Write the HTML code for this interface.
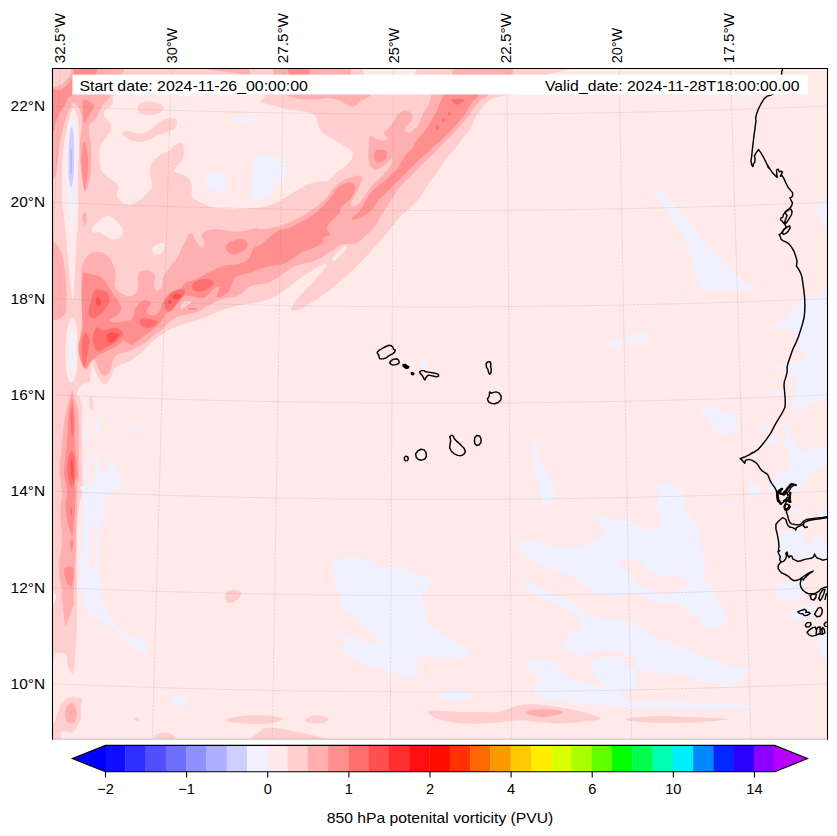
<!DOCTYPE html><html><head><meta charset="utf-8"><style>html,body{margin:0;padding:0;background:#fff}svg text{font-family:"Liberation Sans",sans-serif}</style></head><body><svg width="837" height="836" viewBox="0 0 837 836" style="display:block">
<rect x="0" y="0" width="837" height="836" fill="#fff"/>
<defs><clipPath id="mc"><rect x="52.5" y="68.5" width="775.0" height="670.5"/></clipPath></defs>
<g clip-path="url(#mc)">
<rect x="52.5" y="68.5" width="775.0" height="670.5" fill="rgb(255,233,233)"/>
<g><path d="M40.0,60.0C124.2,-39.3 462.8,57.3 547.0,60.0C631.2,62.7 550.7,70.2 545.0,76.0C539.3,81.8 518.4,91.4 513.0,94.5C507.6,97.6 514.7,94.2 512.8,94.5C510.8,94.8 505.0,95.2 501.5,96.0C498.0,96.8 494.4,97.7 491.5,99.2C488.6,100.8 486.5,102.8 484.0,105.5C481.5,108.2 478.8,111.5 476.5,115.5C474.2,119.5 471.9,126.3 470.0,129.5C468.1,132.7 466.7,133.0 465.3,134.7C463.8,136.5 462.6,138.2 461.3,140.0C460.0,141.8 458.9,143.3 457.4,145.3C455.8,147.2 453.9,149.6 452.1,151.8C450.4,154.0 448.6,156.2 446.8,158.4C445.1,160.6 443.1,162.8 441.6,165.0C440.0,167.2 438.9,169.6 437.6,171.6C436.3,173.6 435.0,175.1 433.7,176.8C432.4,178.6 431.1,180.2 429.7,182.1C428.4,184.0 427.1,186.1 425.8,188.0C424.5,190.0 423.2,192.0 421.8,193.9C420.5,195.9 420.1,197.4 417.9,200.0C415.7,202.6 411.3,206.7 408.5,209.2C405.7,211.8 403.9,212.4 401.0,215.5C398.1,218.6 394.3,223.8 391.0,228.0C387.7,232.2 383.8,237.3 381.0,240.5C378.2,243.7 377.2,244.0 374.5,247.0C371.8,250.0 368.2,254.3 364.5,258.2C360.8,262.2 356.2,266.8 352.0,270.8C347.8,274.7 343.7,278.5 339.5,282.0C335.3,285.5 331.2,288.9 327.0,292.0C322.8,295.1 318.7,298.0 314.5,300.8C310.3,303.5 305.5,306.6 302.0,308.2C298.5,309.9 295.0,310.8 293.2,310.8C291.5,310.8 290.9,310.1 291.5,308.2C292.1,306.4 294.8,302.4 297.0,299.5C299.2,296.6 302.0,293.5 304.5,290.8C307.0,288.0 309.5,286.0 312.0,283.2C314.5,280.5 317.2,277.2 319.5,274.5C321.8,271.8 324.5,268.8 325.8,267.0C327.0,265.2 327.6,264.3 327.0,264.0C326.4,263.7 324.5,263.9 322.0,265.0C319.5,266.1 315.3,268.8 312.0,270.8C308.7,272.8 305.3,274.7 302.0,277.0C298.7,279.3 295.3,282.0 292.0,284.5C288.7,287.0 284.9,289.9 282.0,292.0C279.1,294.1 277.4,295.5 274.5,297.0C271.6,298.5 268.2,299.7 264.5,300.8C260.8,301.8 256.2,302.5 252.0,303.2C247.8,304.0 243.7,304.2 239.5,305.0C235.3,305.8 231.2,306.9 227.0,308.2C222.8,309.6 218.7,311.6 214.5,313.2C210.3,314.9 206.6,316.6 202.0,318.2C197.4,319.9 192.0,321.6 187.0,323.2C182.0,324.9 176.2,326.4 172.0,328.2C167.8,330.1 165.3,332.2 162.0,334.5C158.7,336.8 155.3,339.1 152.0,342.0C148.7,344.9 145.3,349.1 142.0,352.0C138.7,354.9 135.3,357.4 132.0,359.5C128.7,361.6 124.9,363.0 122.0,364.5C119.1,366.0 116.4,366.2 114.5,368.2C112.6,370.3 112.4,374.3 110.8,377.0C109.1,379.7 106.6,384.5 104.5,384.5C102.4,384.5 99.9,379.5 98.2,377.0C96.6,374.5 95.5,371.8 94.5,369.5C93.5,367.2 92.6,362.8 92.0,363.2C91.4,363.7 91.2,368.9 90.8,372.0C90.3,375.1 91.0,379.9 89.5,382.0C88.0,384.1 83.9,383.2 82.0,384.5C80.1,385.8 79.1,387.8 78.2,389.5C77.4,391.2 76.6,392.8 77.0,394.5C77.4,396.2 79.9,397.0 80.8,399.5C81.6,402.0 81.9,404.9 82.0,409.5C82.1,414.1 81.5,419.9 81.5,427.0C81.5,434.1 81.8,442.2 82.0,452.0C82.2,461.8 83.1,476.2 82.5,486.0C81.9,495.8 79.2,502.7 78.2,511.0C77.3,519.3 77.3,527.7 77.0,536.0C76.7,544.3 76.5,552.7 76.5,561.0C76.5,569.3 76.9,577.7 77.0,586.0C77.1,594.3 77.1,602.7 77.0,611.0C76.9,619.3 76.8,628.5 76.5,636.0C76.2,643.5 75.5,650.0 75.0,656.0C74.5,662.0 74.0,669.5 73.2,672.2C72.5,675.0 71.7,673.3 70.8,672.2C69.8,671.2 68.2,668.7 67.5,666.0C66.8,663.3 67.4,658.2 66.5,656.0C65.6,653.8 63.8,653.4 62.0,653.0C60.2,652.6 59.1,653.0 55.8,653.5C52.4,654.0 44.6,754.9 42.0,656.0C39.4,557.1 -44.2,159.3 40.0,60.0Z" fill="rgb(255,207,207)"/>
<path d="M122.2,93.0C137.2,91.1 178.9,92.8 202.0,93.0C225.1,93.2 251.2,92.5 261.0,94.0C270.8,95.5 258.9,99.8 261.0,101.8C263.1,103.7 269.3,104.2 273.5,105.5C277.7,106.8 281.8,108.4 286.0,109.2C290.2,110.1 294.3,109.9 298.5,110.5C302.7,111.1 308.0,111.8 311.0,113.0C314.0,114.2 315.2,115.7 316.5,118.0C317.8,120.3 317.3,124.2 318.5,126.8C319.7,129.3 321.0,131.4 323.5,133.5C326.0,135.6 330.2,137.2 333.5,139.2C336.8,141.2 340.4,143.4 343.5,145.5C346.6,147.6 350.9,149.5 352.2,151.8C353.6,154.0 352.5,157.0 351.5,159.2C350.5,161.5 348.6,163.2 346.0,165.5C343.4,167.8 338.9,170.5 336.0,173.0C333.1,175.5 331.4,179.0 328.5,180.5C325.6,182.0 321.8,181.1 318.5,181.8C315.2,182.4 311.8,183.0 308.5,184.2C305.2,185.5 301.8,187.4 298.5,189.2C295.2,191.1 291.8,193.4 288.5,195.5C285.2,197.6 281.8,200.1 278.5,201.8C275.2,203.4 271.4,204.5 268.5,205.5C265.6,206.5 264.6,207.0 261.0,207.5C257.4,208.0 251.8,208.2 247.0,208.5C242.2,208.8 237.0,209.3 232.0,209.2C227.0,209.2 221.2,208.6 217.0,208.0C212.8,207.4 210.3,206.8 207.0,205.5C203.7,204.2 199.6,202.2 197.0,200.5C194.4,198.8 192.3,197.6 191.5,195.5C190.7,193.4 192.3,190.7 192.0,188.0C191.7,185.3 191.2,181.5 189.5,179.2C187.8,177.0 184.5,175.5 182.0,174.2C179.5,173.0 175.5,172.8 174.5,171.8C173.5,170.7 174.5,169.9 175.8,168.0C177.0,166.1 180.7,163.4 182.0,160.5C183.3,157.6 183.8,153.4 183.8,150.5C183.8,147.6 183.5,143.8 182.0,143.0C180.5,142.2 176.6,144.2 174.5,145.5C172.4,146.8 172.0,148.8 169.5,150.5C167.0,152.2 162.4,153.4 159.5,155.5C156.6,157.6 153.6,160.1 152.0,163.0C150.4,165.9 150.0,169.2 150.0,173.0C150.0,176.8 152.3,182.4 152.0,185.5C151.7,188.6 150.3,189.2 148.2,191.8C146.2,194.2 142.6,198.3 139.5,200.5C136.4,202.7 132.6,204.8 129.5,205.0C126.4,205.2 122.8,203.3 120.8,201.8C118.7,200.2 117.4,198.0 117.0,195.5C116.6,193.0 118.7,189.0 118.2,186.8C117.8,184.5 116.6,183.6 114.5,181.8C112.4,179.9 108.0,177.8 105.8,175.5C103.5,173.2 101.8,172.2 100.8,168.0C99.7,163.8 99.4,154.6 99.5,150.5C99.6,146.4 100.2,145.7 101.5,143.2C102.8,140.8 105.7,137.8 107.2,135.8C108.8,133.7 110.4,132.6 111.0,130.8C111.6,128.9 111.4,126.2 111.0,124.5C110.6,122.8 109.7,122.2 108.5,120.8C107.3,119.3 104.6,117.4 104.0,115.8C103.4,114.1 103.4,112.6 104.8,110.8C106.1,108.9 109.3,107.5 112.2,104.5C115.2,101.5 107.3,94.9 122.2,93.0Z" fill="rgb(255,233,233)"/>
<path d="M138.2,105.5C139.0,104.2 141.0,103.1 143.2,102.5C145.5,101.9 149.1,101.5 152.0,101.8C154.9,102.0 158.8,103.2 160.8,104.2C162.7,105.3 163.8,106.6 163.8,108.0C163.8,109.4 162.7,111.4 160.8,112.5C158.8,113.6 155.1,114.5 152.0,114.8C148.9,115.0 144.2,115.0 142.0,114.2C139.8,113.5 139.4,112.0 138.8,110.5C138.1,109.0 137.5,106.8 138.2,105.5Z" fill="rgb(255,207,207)"/>
<path d="M122.5,132.5C123.1,131.8 125.0,131.0 127.0,131.0C129.0,131.0 132.0,132.1 134.5,132.5C137.0,132.9 139.5,133.8 142.0,133.5C144.5,133.2 147.0,132.0 149.5,130.5C152.0,129.0 154.5,126.1 157.0,124.2C159.5,122.4 162.0,120.3 164.5,119.2C167.0,118.2 170.0,117.9 172.0,118.0C174.0,118.1 175.8,118.5 176.5,120.0C177.2,121.5 177.2,125.0 176.2,126.8C175.3,128.5 172.7,129.4 170.8,130.5C168.8,131.6 166.8,132.7 164.5,133.5C162.2,134.3 159.3,134.5 157.0,135.5C154.7,136.5 153.2,138.2 150.8,139.2C148.2,140.3 144.9,141.5 142.0,141.8C139.1,142.0 135.8,141.6 133.2,141.0C130.8,140.4 128.7,139.0 127.0,138.0C125.3,137.0 124.0,135.9 123.2,135.0C122.5,134.1 121.9,133.2 122.5,132.5Z" fill="rgb(255,207,207)"/>
<path d="M92.0,228.0C92.8,226.1 96.0,223.8 98.2,221.8C100.5,219.8 103.2,216.6 105.8,216.0C108.2,215.4 111.0,216.6 113.2,218.0C115.5,219.4 117.8,222.0 119.5,224.2C121.2,226.5 123.2,229.5 123.2,231.8C123.2,234.0 121.4,236.8 119.5,238.0C117.6,239.2 114.5,239.7 112.0,239.2C109.5,238.8 106.8,236.8 104.5,235.5C102.2,234.2 100.1,232.2 98.2,231.8C96.4,231.3 94.3,233.6 93.2,233.0C92.2,232.4 91.2,229.9 92.0,228.0Z" fill="rgb(255,233,233)"/>
<path d="M152.5,249.2C152.8,247.6 155.2,245.3 157.0,244.2C158.8,243.2 162.0,242.4 163.2,243.0C164.5,243.6 164.9,246.2 164.5,248.0C164.1,249.8 162.3,252.5 160.8,253.5C159.2,254.5 156.4,255.0 155.0,254.2C153.6,253.5 152.2,250.9 152.5,249.2Z" fill="rgb(255,233,233)"/>
<path d="M332.0,258.2C332.5,257.0 335.1,255.1 337.0,253.2C338.9,251.4 341.7,248.1 343.2,247.0C344.8,245.9 346.2,245.9 346.5,246.5C346.8,247.1 346.2,249.1 345.0,250.8C343.8,252.4 341.3,254.8 339.5,256.5C337.7,258.2 335.2,260.5 334.0,260.8C332.8,261.0 331.5,259.5 332.0,258.2Z" fill="rgb(255,233,233)"/>
<path d="M362.0,60.0L417.0,60.0L415.0,76.0L364.0,76.0Z" fill="rgb(255,233,233)"/>
<path d="M73.2,108.0C74.5,107.6 76.0,112.2 77.0,115.5C78.0,118.8 78.7,123.4 79.0,128.0C79.3,132.6 79.1,136.3 79.0,143.0C78.9,149.7 78.5,160.5 78.2,168.0C78.0,175.5 77.8,182.2 77.8,188.0C77.8,193.8 78.1,201.0 78.2,203.0C78.4,205.0 78.6,198.1 78.6,200.0C78.5,201.9 78.3,209.6 78.1,214.4C78.0,219.1 77.8,223.9 77.6,228.7C77.3,233.5 76.7,238.3 76.4,243.1C76.1,247.8 75.9,252.6 75.7,257.4C75.4,262.2 75.2,267.0 75.0,271.8C74.7,276.6 74.6,281.3 74.2,286.1C73.9,290.9 73.4,300.5 72.8,300.5C72.2,300.5 71.3,290.9 70.7,286.1C70.1,281.3 69.7,276.6 69.2,271.8C68.8,267.0 68.6,262.2 68.1,257.4C67.6,252.6 66.8,247.8 66.4,243.1C65.9,238.3 65.7,233.5 65.2,228.7C64.7,223.9 64.0,219.1 63.5,214.4C63.0,209.6 62.2,203.6 62.0,200.0C61.9,196.4 62.5,197.5 62.5,193.0C62.5,188.5 61.9,180.1 62.0,173.0C62.1,165.9 62.6,157.2 63.2,150.5C63.9,143.8 64.7,138.4 65.8,133.0C66.8,127.6 68.2,122.2 69.5,118.0C70.8,113.8 72.0,108.4 73.2,108.0Z" fill="rgb(255,233,233)"/>
<path d="M71.7,318.0C72.9,317.4 74.4,319.2 75.3,321.6C76.2,324.0 76.8,328.2 77.1,332.4C77.5,336.5 77.5,341.3 77.5,346.7C77.5,352.1 77.5,359.6 77.1,364.7C76.8,369.7 76.2,374.2 75.3,377.2C74.4,380.2 72.8,382.0 71.7,382.6C70.7,383.2 69.9,382.6 69.0,380.8C68.1,379.0 67.0,376.0 66.4,371.8C65.8,367.6 65.5,361.4 65.5,355.7C65.4,350.0 65.5,342.8 66.0,337.7C66.4,332.7 67.2,328.5 68.1,325.2C69.1,321.9 70.5,318.6 71.7,318.0Z" fill="rgb(255,233,233)"/>
<path d="M71.5,116.8C72.6,116.3 74.9,121.1 75.8,125.5C76.6,129.9 76.4,135.9 76.5,143.0C76.6,150.1 76.6,160.5 76.5,168.0C76.4,175.5 76.2,182.2 76.0,188.0C75.8,193.8 75.4,198.0 75.0,203.0C74.6,208.0 73.9,213.0 73.5,218.0C73.1,223.0 72.8,229.2 72.5,233.0C72.2,236.8 71.8,240.5 71.5,240.5C71.2,240.5 71.0,236.8 70.8,233.0C70.5,229.2 70.3,223.0 70.0,218.0C69.7,213.0 69.4,208.0 69.0,203.0C68.6,198.0 67.8,193.8 67.5,188.0C67.2,182.2 67.0,175.5 67.0,168.0C67.0,160.5 67.2,149.7 67.5,143.0C67.8,136.3 68.3,132.4 69.0,128.0C69.7,123.6 70.4,117.2 71.5,116.8Z" fill="rgb(240,240,255)"/>
<path d="M71.7,327.0C72.5,327.0 73.8,330.9 74.4,334.2C75.0,337.4 75.3,341.6 75.3,346.7C75.3,351.8 75.0,360.2 74.4,364.7C73.9,369.1 72.8,373.6 72.1,373.6C71.3,373.6 70.5,369.1 69.9,364.7C69.4,360.2 69.1,351.8 69.0,346.7C69.0,341.6 69.1,337.4 69.6,334.2C70.0,330.9 70.9,327.0 71.7,327.0Z" fill="rgb(240,240,255)"/>
<path d="M71.5,126.8C72.2,125.9 73.1,129.0 73.5,133.0C73.9,137.0 73.9,144.7 74.0,150.5C74.1,156.3 74.2,163.0 74.0,168.0C73.8,173.0 73.5,177.2 73.0,180.5C72.5,183.8 71.6,187.6 71.0,188.0C70.4,188.4 69.9,185.5 69.5,183.0C69.1,180.5 68.7,177.6 68.5,173.0C68.3,168.4 68.3,161.3 68.5,155.5C68.7,149.7 69.0,142.8 69.5,138.0C70.0,133.2 70.8,127.6 71.5,126.8Z" fill="rgb(207,207,255)"/>
<path d="M434.0,92.0C443.1,92.1 478.8,91.6 486.5,93.0C494.2,94.4 482.5,97.8 480.2,100.5C478.0,103.2 474.5,106.9 472.8,109.2C471.0,111.6 471.2,112.6 470.0,114.3C468.8,116.1 466.9,117.6 465.3,119.6C463.6,121.6 461.8,124.1 460.0,126.2C458.2,128.3 456.5,130.2 454.7,132.1C453.0,134.0 451.2,135.6 449.5,137.4C447.7,139.1 446.0,140.9 444.2,142.6C442.5,144.4 440.7,146.1 438.9,147.9C437.2,149.6 435.4,151.4 433.7,153.2C431.9,154.9 430.2,156.8 428.4,158.4C426.7,160.1 424.9,161.4 423.2,163.0C421.4,164.7 419.6,166.4 417.9,168.3C416.1,170.2 414.4,172.3 412.6,174.2C410.9,176.1 409.1,177.7 407.4,179.5C405.6,181.2 403.8,183.0 402.1,184.7C400.5,186.5 398.8,188.2 397.5,190.0C396.2,191.8 395.3,193.6 394.2,195.3C393.1,196.9 392.3,197.9 390.9,200.0C389.6,202.1 387.7,205.4 386.0,208.0C384.3,210.6 382.7,212.6 381.0,215.5C379.3,218.4 378.5,222.2 376.0,225.5C373.5,228.8 369.3,232.6 366.0,235.5C362.7,238.4 360.0,241.5 356.0,243.0C352.0,244.5 346.0,243.2 342.0,244.5C338.0,245.8 335.3,248.7 332.0,250.8C328.7,252.8 325.3,255.1 322.0,257.0C318.7,258.9 315.3,260.8 312.0,262.0C308.7,263.2 305.3,263.1 302.0,264.0C298.7,264.9 295.3,265.8 292.0,267.5C288.7,269.2 284.9,272.5 282.0,274.5C279.1,276.5 277.0,278.0 274.5,279.5C272.0,281.0 269.9,282.4 267.0,283.2C264.1,284.1 259.9,283.9 257.0,284.5C254.1,285.1 252.0,285.5 249.5,287.0C247.0,288.5 244.5,291.6 242.0,293.2C239.5,294.9 237.4,296.2 234.5,297.0C231.6,297.8 227.8,297.3 224.5,298.2C221.2,299.2 217.4,301.2 214.5,302.5C211.6,303.8 209.1,304.6 207.0,305.8C204.9,306.9 203.7,308.5 202.0,309.5C200.3,310.5 199.5,311.2 197.0,312.0C194.5,312.8 190.3,313.7 187.0,314.5C183.7,315.3 179.9,315.8 177.0,317.0C174.1,318.2 172.0,319.9 169.5,322.0C167.0,324.1 164.9,327.0 162.0,329.5C159.1,332.0 154.9,334.7 152.0,337.0C149.1,339.3 147.0,341.6 144.5,343.2C142.0,344.9 139.9,345.5 137.0,347.0C134.1,348.5 129.9,351.0 127.0,352.0C124.1,353.0 121.8,352.0 119.5,353.2C117.2,354.5 114.7,356.8 113.2,359.5C111.8,362.2 112.0,366.8 110.8,369.5C109.5,372.2 107.4,375.1 105.8,375.8C104.1,376.4 102.2,375.1 100.8,373.2C99.3,371.4 98.0,366.8 97.0,364.5C96.0,362.2 95.3,360.3 94.5,359.5C93.7,358.7 92.8,358.9 92.0,359.5C91.2,360.1 90.3,361.6 89.5,363.2C88.7,364.9 88.0,368.9 87.0,369.5C86.0,370.1 84.3,368.7 83.2,367.0C82.2,365.3 81.4,362.4 80.8,359.5C80.1,356.6 79.6,352.8 79.5,349.5C79.4,346.2 79.7,343.2 80.0,339.5C80.3,335.8 81.2,331.2 81.5,327.0C81.8,322.8 81.8,318.7 82.0,314.5C82.2,310.3 82.5,306.2 82.5,302.0C82.5,297.8 82.2,293.7 82.0,289.5C81.8,285.3 81.5,281.0 81.5,277.0C81.5,273.0 81.3,268.7 82.0,265.5C82.7,262.3 84.1,260.1 85.8,258.0C87.4,255.9 89.3,253.9 92.0,253.0C94.7,252.1 99.1,251.7 102.0,252.5C104.9,253.3 107.4,255.4 109.5,258.0C111.6,260.6 113.5,264.8 114.5,268.0C115.5,271.2 115.8,274.2 115.8,277.0C115.8,279.8 114.1,282.2 114.5,284.5C114.9,286.8 116.2,288.9 118.2,290.8C120.3,292.6 124.3,295.1 127.0,295.8C129.7,296.4 132.6,295.8 134.5,294.5C136.4,293.2 137.7,291.2 138.2,288.2C138.8,285.3 137.7,279.8 138.0,277.0C138.3,274.2 138.5,272.9 140.0,271.8C141.5,270.6 144.8,269.8 147.0,270.0C149.2,270.2 151.9,271.8 153.2,273.0C154.6,274.2 154.9,274.9 155.0,277.0C155.1,279.1 153.7,283.5 154.0,285.8C154.3,288.0 155.7,290.5 157.0,290.8C158.3,291.0 161.0,289.3 162.0,287.0C163.0,284.7 162.0,280.2 163.2,277.0C164.5,273.8 167.2,271.2 169.5,268.0C171.8,264.8 174.9,261.3 177.0,258.0C179.1,254.7 180.1,251.8 182.0,248.0C183.9,244.2 186.6,238.0 188.2,235.5C189.9,233.0 190.8,232.2 192.0,233.0C193.2,233.8 194.1,238.0 195.8,240.5C197.4,243.0 200.5,247.6 202.0,248.0C203.5,248.4 204.5,245.1 204.5,243.0C204.5,240.9 201.6,237.6 202.0,235.5C202.4,233.4 204.5,231.5 207.0,230.5C209.5,229.5 213.7,229.2 217.0,229.2C220.3,229.2 223.7,230.1 227.0,230.5C230.3,230.9 233.7,231.8 237.0,231.8C240.3,231.8 244.1,231.1 247.0,230.5C249.9,229.9 252.2,228.2 254.5,228.0C256.8,227.8 258.2,229.2 261.0,229.2C263.8,229.2 267.7,228.6 271.0,228.0C274.3,227.4 277.7,226.5 281.0,225.5C284.3,224.5 287.7,223.2 291.0,221.8C294.3,220.3 297.7,218.6 301.0,216.8C304.3,214.9 307.7,212.8 311.0,210.5C314.3,208.2 318.1,205.5 321.0,203.0C323.9,200.5 326.4,198.0 328.5,195.5C330.6,193.0 331.4,190.3 333.5,188.0C335.6,185.7 338.5,183.4 341.0,181.8C343.5,180.1 345.8,179.0 348.5,178.0C351.2,177.0 355.0,175.5 357.2,175.5C359.5,175.5 361.8,176.3 362.2,178.0C362.7,179.7 361.0,182.6 359.8,185.5C358.5,188.4 356.2,192.4 354.8,195.5C353.3,198.6 350.8,202.6 351.0,204.2C351.2,205.9 353.9,206.5 356.0,205.5C358.1,204.5 361.5,200.4 363.5,198.0C365.5,195.6 366.5,193.3 367.9,191.3C369.3,189.3 370.3,187.8 371.8,186.1C373.4,184.3 375.1,182.8 377.1,180.8C379.1,178.8 381.6,176.4 383.7,174.2C385.8,172.0 388.1,169.7 389.6,167.6C391.1,165.5 392.2,163.2 392.6,161.7C393.1,160.2 392.6,158.9 392.2,158.4C391.8,158.0 391.2,158.2 390.3,159.1C389.3,160.0 387.9,162.3 386.3,163.7C384.8,165.1 382.8,166.6 381.1,167.6C379.3,168.6 377.5,169.8 375.8,169.6C374.0,169.4 371.7,168.0 370.5,166.3C369.3,164.7 368.9,162.6 368.6,159.7C368.2,156.9 368.4,152.7 368.6,149.2C368.7,145.7 368.8,141.0 369.2,138.7C369.6,136.4 369.9,135.3 371.2,135.4C372.5,135.5 375.1,138.5 377.1,139.3C379.1,140.2 381.3,140.7 383.0,140.7C384.8,140.7 387.0,140.0 387.6,139.3C388.3,138.7 387.6,137.8 387.0,136.7C386.3,135.6 383.4,134.3 383.7,132.8C384.0,131.2 387.3,129.4 388.9,127.5C390.6,125.6 392.3,123.4 393.6,121.6C394.8,119.7 395.1,117.9 396.2,116.3C397.3,114.8 398.7,113.4 400.1,112.4C401.6,111.4 403.1,110.5 404.7,110.4C406.4,110.3 408.8,110.9 410.0,111.7C411.2,112.5 411.6,113.6 412.0,115.0C412.3,116.4 412.5,118.7 412.0,120.3C411.4,121.8 409.8,122.9 408.7,124.2C407.6,125.5 405.8,126.8 405.4,128.2C405.0,129.5 405.3,131.3 406.1,132.1C406.8,132.9 408.7,133.2 410.0,132.8C411.3,132.3 412.6,130.7 413.9,129.5C415.3,128.3 416.8,127.1 417.9,125.5C419.0,124.0 419.6,122.2 420.5,120.3C421.4,118.3 422.1,115.9 423.2,113.7C424.3,111.5 425.9,109.3 427.1,107.1C428.3,104.9 429.6,102.9 430.4,100.5C431.2,98.1 431.1,94.1 431.7,92.6C432.3,91.2 424.9,91.9 434.0,92.0Z" fill="rgb(255,175,175)"/>
<path d="M149.5,307.0C150.1,305.3 152.8,303.5 154.5,303.2C156.2,303.0 158.5,304.5 159.5,305.8C160.5,307.0 161.4,309.3 160.8,310.8C160.1,312.2 157.4,314.1 155.8,314.5C154.1,314.9 151.8,314.5 150.8,313.2C149.7,312.0 148.9,308.7 149.5,307.0Z" fill="rgb(255,175,175)"/>
<path d="M180.3,308.0L181.5,302.0L186.0,301.3L191.5,302.5L186.0,306.0L182.0,309.5Z" fill="rgb(255,207,207)"/>
<path d="M186.5,301.3L191.5,302.5L189.0,303.3Z" fill="rgb(255,233,233)"/>
<path d="M289.7,92.9C301.8,92.1 354.4,91.4 366.2,92.9C378.0,94.3 362.7,99.1 360.4,101.5C358.2,103.8 355.3,106.5 352.8,106.8C350.2,107.1 347.7,104.6 345.1,103.4C342.6,102.2 340.3,100.5 337.5,99.6C334.6,98.7 331.1,98.1 327.9,98.0C324.7,98.0 321.2,98.9 318.4,99.2C315.5,99.4 313.9,99.6 310.7,99.6C307.5,99.6 302.1,99.5 299.2,99.2C296.4,98.9 295.1,98.7 293.5,97.6C291.9,96.6 277.6,93.7 289.7,92.9Z" fill="rgb(255,175,175)"/>
<path d="M207.0,60.0L250.0,60.0L250.0,75.0L240.0,74.0L225.0,71.5L207.0,69.5Z" fill="rgb(255,175,175)"/>
<path d="M272.0,60.0L352.0,60.0L350.0,76.0L274.0,76.0Z" fill="rgb(255,175,175)"/>
<path d="M287.0,60.0L311.0,60.0L309.0,76.0L289.0,76.0Z" fill="rgb(255,143,143)"/>
<path d="M455.0,60.0L515.0,60.0L512.0,76.0L452.0,76.0Z" fill="rgb(255,175,175)"/>
<path d="M42.0,58.0C55.2,37.6 107.8,55.1 121.0,58.0C134.2,60.9 122.5,71.3 121.0,75.5C119.5,79.7 113.7,79.8 112.0,83.0C110.3,86.2 111.4,91.8 110.8,94.5C110.1,97.2 109.5,97.6 108.2,99.2C107.0,100.9 104.7,102.4 103.2,104.2C101.8,106.1 100.5,108.4 99.5,110.5C98.5,112.6 98.0,114.9 97.0,116.8C96.0,118.6 94.5,120.3 93.2,121.8C92.0,123.2 90.1,123.6 89.5,125.5C88.9,127.4 89.3,130.1 89.5,133.0C89.7,135.9 90.4,138.8 90.8,143.0C91.1,147.2 91.5,153.0 91.5,158.0C91.5,163.0 91.3,168.4 90.8,173.0C90.2,177.6 89.1,182.4 88.2,185.5C87.4,188.6 86.6,191.8 85.8,191.8C84.9,191.8 84.0,188.6 83.2,185.5C82.5,182.4 82.0,177.6 81.5,173.0C81.0,168.4 80.2,163.0 80.0,158.0C79.8,153.0 79.8,147.6 80.0,143.0C80.2,138.4 81.2,133.8 81.5,130.5C81.8,127.2 82.0,125.5 82.0,123.0C82.0,120.5 81.9,117.8 81.5,115.5C81.1,113.2 80.2,110.9 79.5,109.2C78.8,107.6 77.9,106.5 77.0,105.5C76.1,104.5 74.9,103.0 74.0,103.0C73.1,103.0 72.2,104.5 71.5,105.5C70.8,106.5 70.2,107.6 69.5,109.2C68.8,110.9 67.8,113.2 67.0,115.5C66.2,117.8 65.3,120.1 64.5,123.0C63.7,125.9 62.8,129.7 62.0,133.0C61.2,136.3 60.6,139.2 60.0,143.0C59.4,146.8 59.1,151.3 58.5,155.5C57.9,159.7 57.2,164.2 56.5,168.0C55.8,171.8 56.4,175.9 54.0,178.0C51.6,180.1 44.0,200.5 42.0,180.5C40.0,160.5 28.8,78.4 42.0,58.0Z" fill="rgb(255,175,175)"/>
<path d="M47.0,63.0C51.1,59.1 67.4,62.1 71.5,63.0C75.5,63.8 71.6,66.5 71.5,68.0C71.4,69.5 71.6,70.3 71.0,72.0C70.4,73.7 69.3,76.2 68.0,78.0C66.6,79.9 64.9,81.6 63.1,82.9C61.2,84.3 59.7,85.4 57.0,86.0C54.3,86.5 48.7,90.3 47.0,86.5C45.3,82.6 42.9,66.9 47.0,63.0Z" fill="rgb(255,207,207)"/>
<path d="M74.6,63.0C78.1,61.3 91.4,60.9 94.7,63.0C98.1,65.1 97.6,71.6 94.7,75.5C91.8,79.5 80.9,83.6 77.1,86.8C73.4,90.1 73.6,93.2 72.1,95.0C70.6,96.8 69.3,96.4 68.3,97.5C67.4,98.7 67.1,100.6 66.4,101.9C65.8,103.3 65.3,104.4 64.6,105.7C63.8,106.9 62.9,108.2 62.0,109.4C61.2,110.7 60.4,111.8 59.5,113.2C58.7,114.7 57.8,116.4 57.0,118.2C56.3,120.1 55.7,122.4 55.1,124.5C54.6,126.6 55.2,129.3 53.9,130.8C52.5,132.3 48.1,139.8 47.0,133.3C45.8,126.8 44.8,99.1 47.0,91.9C49.2,84.6 56.9,91.0 60.0,90.0C63.2,89.0 64.1,87.6 65.9,86.0C67.8,84.3 69.6,82.1 71.0,79.9C72.3,77.8 73.4,75.8 74.0,73.0C74.6,70.2 71.2,64.7 74.6,63.0Z" fill="rgb(255,143,143)"/>
<path d="M83.1,100.0C84.1,98.6 86.7,100.2 88.4,100.9C90.1,101.6 92.7,103.0 93.4,104.4C94.2,105.8 93.4,107.8 92.8,109.4C92.2,111.1 90.7,112.8 89.7,114.5C88.6,116.1 87.4,118.0 86.5,119.5C85.7,121.0 84.9,123.5 84.4,123.3C83.9,123.1 83.7,120.5 83.4,118.2C83.1,115.9 82.8,112.5 82.8,109.4C82.7,106.4 82.2,101.5 83.1,100.0Z" fill="rgb(255,143,143)"/>
<path d="M84.5,141.8C85.2,142.2 86.4,147.0 87.0,150.5C87.6,154.0 88.2,158.8 88.2,163.0C88.3,167.2 87.9,171.8 87.5,175.5C87.1,179.2 86.2,183.0 85.8,185.5C85.2,188.0 84.9,190.9 84.5,190.5C84.1,190.1 83.7,185.9 83.2,183.0C82.8,180.1 82.3,176.8 82.0,173.0C81.7,169.2 81.4,164.7 81.5,160.5C81.6,156.3 82.0,151.1 82.5,148.0C83.0,144.9 83.8,141.3 84.5,141.8Z" fill="rgb(255,143,143)"/>
<path d="M45.0,240.0C46.4,226.8 51.3,240.6 53.4,241.6C55.5,242.6 56.3,243.8 57.7,246.0C59.1,248.2 60.9,251.4 62.0,254.5C63.1,257.6 63.6,260.5 64.2,264.6C64.8,268.7 65.2,274.2 65.6,279.0C66.0,283.8 66.2,289.0 66.4,293.3C66.6,297.6 66.7,301.6 66.5,305.0C66.3,308.4 66.2,311.7 65.0,314.0C63.8,316.3 60.9,318.0 59.0,319.0C57.1,320.0 56.1,319.7 53.8,320.0C51.5,320.3 46.5,334.3 45.0,321.0C43.5,307.7 43.6,253.2 45.0,240.0Z" fill="rgb(255,175,175)"/>
<path d="M84.5,212.1C85.3,211.9 86.1,214.5 86.4,215.9C86.8,217.4 86.9,219.1 86.6,220.7C86.4,222.3 85.6,225.3 85.0,225.5C84.4,225.7 83.6,223.1 83.1,221.7C82.6,220.2 81.9,218.5 82.1,216.9C82.4,215.3 83.8,212.3 84.5,212.1Z" fill="rgb(255,175,175)"/>
<path d="M71.2,148.8C71.4,148.8 71.7,147.8 71.8,151.7C71.9,155.5 71.9,167.9 71.8,171.8C71.7,175.6 71.4,174.6 71.2,174.6C71.0,174.6 70.8,175.6 70.7,171.8C70.6,167.9 70.6,155.5 70.7,151.7C70.8,147.8 71.0,148.8 71.2,148.8Z" fill="rgb(175,175,255)"/>
<path d="M444.0,92.0C449.6,92.1 473.2,91.2 477.8,93.0C482.3,94.8 472.8,100.9 471.5,103.0C470.2,105.1 471.0,104.0 470.0,105.8C469.0,107.6 466.9,111.3 465.3,113.7C463.6,116.1 462.0,117.9 460.0,120.3C458.0,122.7 455.6,125.7 453.4,128.2C451.2,130.6 449.0,132.5 446.8,134.7C444.6,136.9 442.5,139.3 440.3,141.3C438.1,143.3 435.9,144.6 433.7,146.6C431.5,148.6 429.3,151.2 427.1,153.2C424.9,155.1 422.7,156.4 420.5,158.4C418.3,160.4 416.1,162.8 413.9,165.0C411.8,167.2 409.6,169.4 407.4,171.6C405.2,173.8 403.0,176.0 400.8,178.2C398.6,180.4 396.4,182.5 394.2,184.7C392.0,186.9 389.6,189.3 387.6,191.3C385.7,193.3 383.9,195.1 382.4,196.6C380.8,198.0 379.9,198.1 378.4,200.0C376.9,201.9 375.6,205.6 373.5,208.0C371.4,210.4 368.5,212.6 366.0,214.2C363.5,215.9 360.8,217.1 358.5,218.0C356.2,218.9 353.1,220.0 352.2,219.8C351.4,219.5 352.2,218.3 353.5,216.8C354.8,215.2 357.1,214.1 359.8,210.5C362.4,206.9 367.0,198.7 369.2,195.3C371.4,191.8 371.4,191.8 373.2,190.0C374.9,188.2 377.5,186.5 379.7,184.7C381.9,183.0 384.1,181.4 386.3,179.5C388.5,177.5 390.9,174.9 392.9,172.9C394.9,170.9 396.6,169.6 398.2,167.6C399.7,165.7 401.0,163.0 402.1,161.1C403.2,159.1 403.6,157.3 404.7,155.8C405.8,154.3 407.4,153.2 408.7,151.8C410.0,150.5 411.5,149.4 412.6,147.9C413.7,146.4 414.2,144.4 415.3,142.6C416.4,140.9 417.7,139.3 419.2,137.4C420.7,135.4 422.7,133.2 424.5,130.8C426.2,128.4 428.2,125.3 429.7,122.9C431.3,120.5 432.4,118.5 433.7,116.3C435.0,114.1 436.6,111.9 437.6,109.7C438.6,107.5 438.8,105.0 439.6,103.2C440.4,101.3 441.5,100.3 442.2,98.6C443.0,96.8 443.9,93.7 444.2,92.6C444.5,91.5 438.4,91.9 444.0,92.0Z" fill="rgb(255,143,143)"/>
<path d="M375.8,150.5C376.9,149.6 379.4,149.8 381.1,149.9C382.7,149.9 384.7,150.0 385.7,150.8C386.6,151.6 387.0,153.2 387.0,154.5C387.0,155.7 386.5,157.2 385.7,158.4C384.8,159.6 383.0,161.1 381.7,161.7C380.4,162.4 378.9,162.7 377.8,162.4C376.6,162.0 375.3,160.9 374.7,159.7C374.1,158.5 374.0,156.7 374.2,155.1C374.4,153.6 374.6,151.4 375.8,150.5Z" fill="rgb(255,143,143)"/>
<path d="M193.5,280.2C197.6,278.6 205.0,274.4 210.0,272.0C215.0,269.6 218.5,267.4 223.5,266.0C228.5,264.6 236.1,264.8 240.2,263.5C244.4,262.2 246.3,261.0 248.5,258.5C250.7,256.0 251.4,250.9 253.5,248.5C255.6,246.1 258.5,246.0 261.0,244.2C263.5,242.5 265.6,240.3 268.5,238.0C271.4,235.7 275.2,232.2 278.5,230.5C281.8,228.8 285.2,229.2 288.5,228.0C291.8,226.8 295.2,224.7 298.5,223.0C301.8,221.3 305.2,220.1 308.5,218.0C311.8,215.9 315.6,213.0 318.5,210.5C321.4,208.0 323.7,205.5 326.0,203.0C328.3,200.5 330.6,197.8 332.2,195.5C333.9,193.2 334.5,190.9 336.0,189.2C337.5,187.6 338.9,186.6 341.0,185.5C343.1,184.4 346.3,182.7 348.5,182.5C350.7,182.3 353.0,182.9 354.0,184.2C355.0,185.6 355.2,188.2 354.8,190.5C354.2,192.8 352.5,195.9 351.0,198.0C349.5,200.1 347.7,201.5 346.0,203.0C344.3,204.5 342.0,205.1 341.0,206.8C340.0,208.4 340.8,211.1 339.8,213.0C338.7,214.9 336.6,216.1 334.8,218.0C332.9,219.9 329.8,222.2 328.5,224.2C327.2,226.3 327.0,228.8 327.2,230.5C327.5,232.2 330.4,233.0 329.8,234.2C329.1,235.5 324.8,236.5 323.5,238.0C322.2,239.5 323.9,241.5 322.0,243.2C320.1,245.0 315.3,246.8 312.0,248.2C308.7,249.7 304.5,250.8 302.0,252.0C299.5,253.2 299.1,254.3 297.0,255.8C294.9,257.2 292.0,259.3 289.5,260.8C287.0,262.2 284.9,263.7 282.0,264.5C279.1,265.3 275.3,265.1 272.0,265.8C268.7,266.4 265.3,267.2 262.0,268.2C258.7,269.3 255.3,271.0 252.0,272.0C248.7,273.0 244.9,273.5 242.0,274.5C239.1,275.5 236.2,276.6 234.5,278.2C232.8,279.9 232.8,282.4 232.0,284.5C231.2,286.6 231.0,288.9 229.5,290.8C228.0,292.6 225.3,294.7 223.2,295.8C221.2,296.8 217.8,297.8 217.0,297.0C216.2,296.2 217.8,292.4 218.2,290.8C218.7,289.1 220.1,287.4 219.5,287.0C218.9,286.6 216.2,287.2 214.5,288.2C212.8,289.3 211.6,291.6 209.5,293.2C207.4,294.9 206.1,297.9 202.0,298.2C197.9,298.6 188.4,295.1 184.8,295.6C181.2,296.0 181.8,299.3 180.3,301.0C178.8,302.6 177.1,303.8 175.8,305.4C174.5,307.1 173.7,309.6 172.2,310.8C170.7,312.0 168.3,311.4 166.8,312.6C165.3,313.8 164.4,316.2 163.2,318.0C162.0,319.8 161.2,321.7 159.7,323.4C158.2,325.0 156.1,326.4 154.3,327.9C152.5,329.4 151.0,330.7 148.9,332.4C146.8,334.0 143.8,336.1 141.7,337.7C139.6,339.4 138.1,341.0 136.3,342.2C134.5,343.4 132.7,345.1 130.9,344.9C129.2,344.8 126.9,342.1 125.6,341.3C124.2,340.6 124.1,339.8 122.9,340.4C121.7,341.0 120.2,343.6 118.4,344.9C116.6,346.3 114.4,347.3 112.1,348.5C109.9,349.7 107.2,351.0 104.9,352.1C102.7,353.1 100.6,353.6 98.7,354.8C96.7,356.0 94.6,358.1 93.3,359.3C91.9,360.5 91.3,361.1 90.6,362.0C89.8,362.9 89.7,363.6 88.8,364.7C87.9,365.7 86.4,368.5 85.2,368.2C84.0,367.9 82.7,365.3 81.6,362.9C80.6,360.5 79.4,356.9 78.9,353.9C78.4,350.9 78.3,347.9 78.6,344.9C78.9,341.9 80.1,338.6 80.7,335.9C81.4,333.3 82.3,331.8 82.5,328.8C82.7,325.8 82.3,322.5 82.1,318.0C82.0,313.5 81.7,306.9 81.6,301.9C81.5,296.8 81.5,291.7 81.6,287.5C81.8,283.3 82.2,279.3 82.5,276.7C82.8,274.2 82.2,272.7 83.4,272.3C84.6,271.8 87.1,273.4 89.7,274.0C92.2,274.6 96.3,274.8 98.7,275.8C101.0,276.9 102.5,278.7 104.0,280.3C105.5,282.0 106.0,283.3 107.6,285.7C109.3,288.1 112.0,291.8 113.9,294.7C115.8,297.5 118.1,300.4 119.3,302.8C120.5,305.1 121.2,307.1 121.1,309.0C120.9,311.0 119.9,312.9 118.4,314.4C116.9,315.9 113.6,317.0 112.1,318.0C110.6,319.1 109.0,319.9 109.4,320.7C109.9,321.4 112.4,322.3 114.8,322.5C117.2,322.6 121.1,322.0 123.8,321.6C126.5,321.1 129.3,321.0 130.9,319.8C132.6,318.6 132.9,316.4 133.6,314.4C134.4,312.5 134.4,310.1 135.4,308.1C136.5,306.2 138.3,304.1 139.9,302.8C141.6,301.4 143.7,300.2 145.3,300.1C146.9,299.9 148.9,301.1 149.8,301.9C150.7,302.6 151.1,303.4 150.7,304.5C150.2,305.7 147.7,307.7 147.1,309.0C146.5,310.4 146.5,311.6 147.1,312.6C147.7,313.7 149.2,315.0 150.7,315.3C152.2,315.6 154.6,315.2 156.1,314.4C157.6,313.7 158.8,312.3 159.7,310.8C160.6,309.3 160.7,307.2 161.4,305.4C162.2,303.7 162.9,301.9 164.1,300.1C165.3,298.3 166.7,296.2 168.6,294.7C170.6,293.2 173.6,292.3 175.8,291.1C178.0,289.9 180.4,289.0 182.1,287.5C183.7,286.0 183.8,283.3 185.7,282.1C187.6,280.9 189.4,281.9 193.5,280.2Z" fill="rgb(255,143,143)"/>
<path d="M226.5,245.8C227.3,244.1 229.6,241.9 232.0,240.8C234.4,239.6 238.1,238.8 240.8,239.0C243.4,239.2 246.8,240.5 247.8,242.0C248.7,243.5 247.9,246.4 246.5,248.2C245.1,250.1 241.9,252.2 239.5,253.2C237.1,254.3 234.1,254.9 232.0,254.5C229.9,254.1 227.9,252.2 227.0,250.8C226.1,249.3 225.7,247.4 226.5,245.8Z" fill="rgb(255,175,175)"/>
<path d="M95.1,290.2C96.9,289.3 100.9,289.4 103.1,290.2C105.4,290.9 107.5,292.9 108.5,294.7C109.6,296.5 109.9,298.7 109.4,301.0C109.0,303.2 107.3,305.9 105.8,308.1C104.3,310.4 102.4,312.8 100.4,314.4C98.5,316.1 96.0,317.7 94.2,318.0C92.3,318.3 90.2,317.4 89.3,316.2C88.4,315.0 88.6,313.1 88.8,310.8C89.0,308.6 90.0,305.3 90.6,302.8C91.2,300.2 91.6,297.7 92.4,295.6C93.1,293.5 93.3,291.1 95.1,290.2Z" fill="rgb(255,111,111)"/>
<path d="M96.3,298.6C96.9,297.9 98.2,297.5 99.0,297.9C99.8,298.3 101.2,299.8 101.3,301.0C101.5,302.2 100.8,304.3 100.1,305.1C99.4,305.8 97.9,305.9 97.2,305.4C96.5,305.0 95.9,303.4 95.8,302.2C95.6,301.1 95.8,299.3 96.3,298.6Z" fill="rgb(255,79,79)"/>
<path d="M97.8,327.3C99.2,327.3 101.2,330.3 103.1,330.6C105.1,330.8 107.2,329.2 109.4,328.8C111.7,328.3 114.6,327.6 116.6,327.9C118.5,328.2 119.9,329.5 121.1,330.6C122.2,331.7 123.7,333.2 123.4,334.5C123.1,335.9 120.7,337.2 119.3,338.6C117.8,340.1 116.4,341.9 114.8,343.1C113.2,344.3 111.2,344.9 109.4,345.8C107.6,346.7 105.8,347.5 104.0,348.5C102.2,349.5 100.1,351.7 98.7,351.7C97.2,351.7 96.0,350.1 95.1,348.5C94.1,346.9 93.3,344.3 92.9,342.2C92.6,340.1 92.6,337.9 92.9,335.9C93.2,334.0 93.9,332.0 94.7,330.6C95.5,329.1 96.3,327.3 97.8,327.3Z" fill="rgb(255,111,111)"/>
<path d="M108.5,333.3C109.9,332.5 113.0,332.1 114.8,332.4C116.6,332.6 119.0,333.5 119.3,334.5C119.6,335.6 117.8,337.3 116.6,338.6C115.4,340.0 113.5,342.3 112.1,342.8C110.7,343.2 108.9,342.3 108.0,341.3C107.1,340.3 106.6,338.2 106.7,336.8C106.8,335.5 107.2,334.0 108.5,333.3Z" fill="rgb(255,79,79)"/>
<path d="M85.2,332.4C86.2,332.1 88.0,335.9 88.8,337.7C89.5,339.5 89.8,340.7 89.7,343.1C89.5,345.5 88.5,349.1 87.9,352.1C87.3,355.1 86.7,358.7 86.1,361.1C85.5,363.5 84.9,366.4 84.3,366.4C83.7,366.4 83.0,363.8 82.5,361.1C82.1,358.4 81.6,353.9 81.6,350.3C81.6,346.7 81.9,342.5 82.5,339.5C83.1,336.5 84.1,332.7 85.2,332.4Z" fill="rgb(255,111,111)"/>
<path d="M139.9,319.8C140.8,318.9 143.2,318.0 145.3,318.0C147.4,318.0 150.4,319.2 152.5,319.8C154.6,320.4 157.4,320.7 157.9,321.6C158.3,322.5 156.5,324.1 155.2,325.2C153.8,326.2 151.7,327.5 149.8,327.9C147.8,328.2 145.2,328.1 143.5,327.3C141.9,326.6 140.5,324.6 139.9,323.4C139.3,322.1 139.0,320.7 139.9,319.8Z" fill="rgb(255,111,111)"/>
<path d="M166.8,297.4C168.1,295.7 170.1,293.3 172.2,292.0C174.3,290.6 177.3,289.6 179.4,289.3C181.5,289.0 184.0,289.1 184.8,290.2C185.5,291.2 184.8,293.9 183.9,295.6C183.0,297.2 180.7,298.6 179.4,300.1C178.0,301.6 177.1,302.9 175.8,304.5C174.5,306.2 172.7,308.7 171.3,309.9C170.0,311.1 168.8,312.2 167.7,311.7C166.7,311.3 165.5,308.9 165.0,307.2C164.5,305.6 164.4,303.5 164.7,301.9C165.0,300.2 165.6,299.0 166.8,297.4Z" fill="rgb(255,111,111)"/>
<path d="M173.1,295.6C173.8,294.8 176.3,293.6 177.6,293.4C178.9,293.3 180.8,293.9 181.2,294.7C181.5,295.4 180.6,297.1 179.8,297.9C178.9,298.7 176.9,299.3 175.8,299.3C174.7,299.4 173.7,298.9 173.3,298.3C172.8,297.6 172.4,296.4 173.1,295.6Z" fill="rgb(255,79,79)"/>
<path d="M168.3,301.0C168.6,300.4 169.9,299.5 170.4,299.7C171.0,299.9 171.6,301.5 171.5,302.2C171.4,302.9 170.2,303.9 169.7,304.0C169.2,304.1 168.5,303.4 168.3,302.9C168.0,302.4 167.9,301.5 168.3,301.0Z" fill="rgb(255,79,79)"/>
<path d="M192.0,285.8C192.4,284.1 194.9,281.9 197.0,280.8C199.1,279.6 202.0,279.1 204.5,279.0C207.0,278.9 210.5,279.1 212.0,280.0C213.5,280.9 213.9,283.0 213.2,284.5C212.6,286.0 210.3,287.8 208.2,289.0C206.2,290.2 203.0,291.2 200.8,291.5C198.5,291.8 196.0,291.7 194.5,290.8C193.0,289.8 191.6,287.4 192.0,285.8Z" fill="rgb(255,111,111)"/>
<path d="M225.8,246.8C226.0,244.9 228.7,243.0 230.8,241.8C232.8,240.5 235.8,239.5 238.2,239.2C240.8,239.0 244.2,239.5 245.8,240.5C247.3,241.5 247.9,243.8 247.5,245.5C247.1,247.2 245.2,249.5 243.2,251.0C241.3,252.5 238.1,253.9 235.8,254.2C233.4,254.6 230.7,254.2 229.0,253.0C227.3,251.8 225.5,248.6 225.8,246.8Z" fill="rgb(255,143,143)"/>
<path d="M451.4,99.9C452.1,99.2 455.3,98.9 457.4,98.9C459.5,98.9 463.3,99.3 463.9,99.9C464.6,100.5 462.5,101.7 461.3,102.5C460.1,103.3 458.0,104.6 456.7,104.7C455.4,104.8 454.3,104.0 453.4,103.2C452.5,102.3 450.8,100.6 451.4,99.9Z" fill="rgb(255,111,111)"/>
<path d="M447.9,112.6L450.1,112.1L451.1,114.3L449.5,115.7L448.2,114.7Z" fill="rgb(255,111,111)"/>
<path d="M442.2,119.2L443.9,118.0L444.9,120.5L443.6,122.6L442.4,121.6Z" fill="rgb(255,111,111)"/>
<path d="M435.3,125.8L437.6,125.3L439.6,127.5L437.9,130.1L436.1,128.8Z" fill="rgb(255,111,111)"/>
<path d="M188.0,308.0L197.0,308.0L197.0,310.0L188.0,310.0Z" fill="rgb(255,143,143)"/>
<path d="M72.1,390.0C72.9,390.0 73.6,395.1 74.6,398.4C75.6,401.8 77.2,405.4 78.0,410.1C78.7,414.9 78.9,420.7 79.1,426.9C79.3,433.0 79.2,440.8 79.1,447.0C79.1,453.1 78.8,458.1 78.8,463.7C78.8,469.3 79.4,477.3 79.1,480.5C78.9,483.7 77.5,480.6 77.3,482.9C77.0,485.2 77.6,490.0 77.6,494.4C77.5,498.7 77.3,503.9 77.1,508.7C76.9,513.5 76.6,518.3 76.4,523.1C76.2,527.8 75.8,532.6 75.7,537.4C75.6,542.2 75.8,547.0 75.7,551.8C75.6,556.6 75.1,561.3 75.0,566.1C74.8,570.9 74.9,575.7 74.7,580.5C74.4,585.3 73.8,591.6 73.5,594.8C73.3,598.1 73.2,598.6 73.2,600.0C73.3,601.4 74.6,600.8 74.0,603.5C73.4,606.2 70.8,612.5 69.5,616.0C68.2,619.5 67.2,623.3 66.5,624.8C65.8,626.2 65.4,626.2 65.0,624.8C64.6,623.3 64.5,620.4 64.0,616.0C63.5,611.6 62.4,601.2 62.0,598.5C61.6,595.8 61.8,601.1 61.8,600.0C61.8,598.9 62.2,594.7 62.0,592.0C61.9,589.2 61.1,586.5 60.6,583.3C60.1,580.2 59.4,577.1 59.2,573.3C58.9,569.5 58.8,564.4 59.2,560.4C59.5,556.3 60.9,552.7 61.3,548.9C61.8,545.1 62.1,541.7 62.0,537.4C62.0,533.1 61.2,527.8 60.9,523.1C60.6,518.3 60.1,513.5 60.3,508.7C60.5,503.9 62.0,498.7 62.0,494.4C62.1,490.0 60.8,484.6 60.6,482.9C60.5,481.1 61.4,485.6 61.2,483.8C61.0,482.0 59.7,476.0 59.5,472.1C59.4,468.2 60.0,465.1 60.4,460.4C60.8,455.6 61.5,449.2 62.0,443.6C62.6,438.1 62.7,432.5 63.4,426.9C64.1,421.3 65.2,414.9 66.2,410.1C67.3,405.4 68.6,401.8 69.6,398.4C70.6,395.1 71.3,390.0 72.1,390.0Z" fill="rgb(255,175,175)"/>
<path d="M72.1,397.6C72.8,397.6 73.3,403.3 73.8,406.8C74.2,410.3 74.6,413.8 74.8,418.5C75.0,423.3 74.8,430.0 74.9,435.3C75.1,440.6 75.1,445.6 75.4,450.3C75.8,455.1 76.8,459.3 77.1,463.7C77.5,468.2 77.8,474.2 77.5,477.1C77.1,480.1 75.3,478.6 75.0,481.4C74.6,484.3 75.3,489.8 75.3,494.4C75.3,498.9 75.1,504.4 75.0,508.7C74.8,513.0 74.5,516.8 74.2,520.2C74.0,523.5 73.8,526.4 73.5,528.8C73.3,531.2 73.1,533.2 72.8,534.5C72.6,535.9 72.5,536.9 72.1,536.7C71.7,536.5 71.3,534.9 70.7,533.1C70.1,531.3 69.2,528.6 68.5,525.9C67.8,523.3 66.8,520.7 66.4,517.3C65.9,514.0 65.5,510.1 65.6,505.8C65.8,501.5 67.1,495.6 67.1,491.5C67.1,487.4 66.1,484.4 65.6,481.4C65.1,478.5 64.2,476.7 64.1,473.8C63.9,470.8 64.2,467.6 64.6,463.7C64.9,459.8 65.8,455.1 66.2,450.3C66.7,445.6 67.1,440.6 67.4,435.3C67.7,430.0 67.5,423.3 67.9,418.5C68.3,413.8 68.9,410.3 69.6,406.8C70.3,403.3 71.4,397.6 72.1,397.6Z" fill="rgb(255,143,143)"/>
<path d="M69.9,541.7C70.1,540.3 70.8,538.9 71.4,538.9C71.9,538.9 73.0,540.3 73.2,541.7C73.5,543.2 73.1,545.8 72.8,547.5C72.6,549.1 72.2,551.8 71.8,551.8C71.4,551.8 70.7,549.1 70.4,547.5C70.1,545.8 69.8,543.2 69.9,541.7Z" fill="rgb(255,143,143)"/>
<path d="M64.2,568.3C64.8,567.4 66.5,567.1 67.8,566.8C69.1,566.6 71.1,566.4 72.1,566.8C73.1,567.3 73.3,567.9 73.5,569.7C73.7,571.5 73.5,575.1 73.2,577.6C73.0,580.1 72.5,583.2 72.1,584.8C71.7,586.3 71.5,587.2 70.7,586.9C69.8,586.7 68.0,584.9 67.1,583.3C66.1,581.8 65.4,579.5 64.9,577.6C64.4,575.7 64.2,573.4 64.1,571.9C63.9,570.3 63.6,569.1 64.2,568.3Z" fill="rgb(255,143,143)"/>
<path d="M72.1,405.1C72.6,405.1 73.1,412.7 73.3,416.8C73.5,421.0 73.4,426.9 73.3,430.2C73.1,433.5 72.7,436.6 72.3,436.6C71.9,436.6 71.2,433.5 70.9,430.2C70.6,426.9 70.2,421.0 70.4,416.8C70.6,412.7 71.6,405.1 72.1,405.1Z" fill="rgb(255,111,111)"/>
<path d="M72.1,451.2C72.7,451.6 73.6,453.8 74.1,455.4C74.6,456.9 74.9,457.9 75.1,460.4C75.3,462.9 75.2,467.1 75.1,470.4C75.1,473.8 75.1,477.4 74.8,480.5C74.5,483.5 73.6,488.3 73.4,488.9C73.2,489.4 73.9,483.7 73.5,483.6C73.2,483.4 72.0,487.8 71.4,487.9C70.8,488.0 70.2,484.7 69.9,484.3C69.7,483.9 70.0,486.1 69.8,485.5C69.5,484.9 68.8,482.9 68.4,480.5C68.0,478.1 67.6,474.1 67.4,471.3C67.2,468.5 67.2,466.1 67.4,463.7C67.6,461.4 68.2,458.8 68.7,457.0C69.2,455.2 69.9,453.8 70.4,452.8C71.0,451.9 71.5,450.8 72.1,451.2Z" fill="rgb(255,111,111)"/>
<path d="M72.1,459.0C72.5,459.0 72.9,463.0 73.1,465.4C73.3,467.9 73.4,471.3 73.3,473.8C73.2,476.3 72.8,480.5 72.4,480.5C72.1,480.5 71.4,476.3 71.1,473.8C70.8,471.3 70.3,467.9 70.4,465.4C70.6,463.0 71.6,459.0 72.1,459.0Z" fill="rgb(255,79,79)"/>
<path d="M70.7,508.7C70.9,507.8 71.6,507.4 71.8,508.0C72.0,508.6 72.2,511.0 72.1,512.3C72.0,513.6 71.6,515.4 71.4,515.6C71.1,515.8 70.8,514.9 70.7,513.7C70.5,512.6 70.5,509.7 70.7,508.7Z" fill="rgb(255,111,111)"/>
<path d="M89.7,398.4C90.1,396.9 91.6,396.7 92.2,397.6C92.7,398.4 93.1,401.5 93.0,403.4C93.0,405.4 92.4,408.7 91.9,409.3C91.3,409.9 90.0,408.6 89.7,406.8C89.3,405.0 89.3,400.0 89.7,398.4Z" fill="rgb(255,207,207)"/>
<path d="M85.5,421.9C86.2,421.3 87.4,424.9 88.0,426.9C88.6,428.8 89.0,431.4 88.8,433.6C88.7,435.8 87.8,438.3 87.2,440.3C86.6,442.2 85.7,445.6 85.2,445.3C84.6,445.0 84.1,441.1 83.8,438.6C83.5,436.1 83.2,433.0 83.5,430.2C83.8,427.4 84.7,422.4 85.5,421.9Z" fill="rgb(240,240,255)"/>
<path d="M98.1,418.2C99.0,417.6 100.5,419.6 100.9,421.0C101.3,422.5 101.0,424.7 100.6,426.9C100.1,429.1 98.8,433.9 98.1,434.4C97.3,435.0 96.4,431.9 95.9,430.2C95.4,428.6 94.8,426.4 95.2,424.4C95.6,422.4 97.1,418.7 98.1,418.2Z" fill="rgb(240,240,255)"/>
<path d="M128.2,432.8C128.7,431.8 130.8,429.7 132.4,428.6C133.9,427.4 136.1,426.4 137.4,426.1C138.7,425.7 140.4,425.9 140.4,426.6C140.4,427.3 138.7,429.1 137.4,430.2C136.1,431.4 133.7,432.9 132.4,433.6C131.0,434.3 130.1,434.6 129.4,434.4C128.7,434.3 127.7,433.7 128.2,432.8Z" fill="rgb(240,240,255)"/>
<path d="M89.2,457.9C89.6,457.1 92.4,456.2 93.9,455.7C95.3,455.2 97.3,454.2 98.1,455.0C98.8,455.8 98.1,458.4 98.6,460.4C99.0,462.4 99.7,464.8 100.6,467.1C101.5,469.3 103.1,473.5 103.9,473.8C104.8,474.1 104.6,470.6 105.6,468.8C106.6,466.9 108.7,464.2 109.8,462.9C110.9,461.6 111.4,460.8 112.3,461.2C113.1,461.6 113.7,463.6 114.8,465.4C115.9,467.2 117.9,469.9 119.0,472.1C120.1,474.3 121.2,476.6 121.5,478.8C121.8,481.0 121.6,483.7 121.0,485.5C120.4,487.3 119.5,488.6 118.1,489.7C116.8,490.7 115.2,491.4 113.1,491.9C111.0,492.3 107.7,492.2 105.6,492.5C103.5,492.9 102.1,493.9 100.6,493.9C99.0,493.8 97.4,493.3 96.4,492.2C95.3,491.1 94.6,489.1 94.2,487.2C93.8,485.2 93.6,482.7 93.9,480.5C94.1,478.2 95.5,476.0 95.9,473.8C96.3,471.5 96.6,469.0 96.4,467.1C96.2,465.1 95.5,463.2 94.7,462.1C93.9,460.9 92.3,460.7 91.4,460.0C90.4,459.4 88.8,458.6 89.2,457.9Z" fill="rgb(240,240,255)"/>
<path d="M109.8,484.2C110.6,483.7 113.4,483.7 114.0,484.2C114.5,484.7 113.7,486.3 113.1,487.2C112.6,488.1 111.3,489.7 110.6,489.7C110.0,489.7 109.4,488.1 109.3,487.2C109.1,486.3 109.0,484.7 109.8,484.2Z" fill="rgb(255,233,233)"/>
<path d="M85.5,463.7C85.9,464.0 86.9,467.9 87.2,470.4C87.4,472.9 87.4,476.7 87.2,478.8C86.9,480.9 85.9,483.3 85.5,483.0C85.1,482.7 84.8,479.5 84.7,477.1C84.5,474.8 84.5,471.0 84.7,468.8C84.8,466.5 85.1,463.5 85.5,463.7Z" fill="rgb(240,240,255)"/>
<path d="M84.7,493.9C85.4,491.3 86.9,491.3 88.0,491.9C89.1,492.4 90.1,496.6 91.4,497.2C92.6,497.8 93.7,495.8 95.5,495.6C97.4,495.3 101.0,494.4 102.2,495.6C103.5,496.7 103.1,499.7 103.1,502.2C103.1,504.8 102.2,507.3 102.2,510.6C102.2,514.0 106.1,520.4 103.1,522.3C100.0,524.3 87.1,524.9 83.8,522.3C80.6,519.8 83.3,512.0 83.5,507.3C83.6,502.5 83.9,496.4 84.7,493.9Z" fill="rgb(240,240,255)"/>
<path d="M47.0,590.5C48.3,588.5 53.5,592.0 55.0,593.5C56.5,595.0 56.0,597.9 55.8,599.8C55.5,601.6 54.7,603.8 53.2,604.8C51.8,605.7 48.0,607.9 47.0,605.5C46.0,603.1 45.7,592.5 47.0,590.5Z" fill="rgb(255,233,233)"/>
<path d="M205.8,178.0C206.5,176.5 207.8,174.2 209.5,173.0C211.2,171.8 213.7,170.8 215.8,171.0C217.8,171.2 220.2,172.7 222.0,174.2C223.8,175.8 225.5,178.3 226.2,180.5C227.0,182.7 227.0,185.7 226.2,187.5C225.5,189.3 224.0,190.7 222.0,191.2C220.0,191.8 216.8,191.8 214.5,191.0C212.2,190.2 209.8,188.3 208.2,186.8C206.7,185.2 205.7,183.2 205.2,181.8C204.8,180.3 205.0,179.5 205.8,178.0Z" fill="rgb(240,240,255)"/>
<path d="M234.5,119.2C235.0,118.4 237.6,117.7 239.5,117.5C241.4,117.3 244.1,118.4 245.8,118.0C247.4,117.6 248.0,115.6 249.5,115.0C251.0,114.4 253.2,114.0 254.5,114.2C255.8,114.5 256.8,115.8 257.0,116.8C257.2,117.7 256.8,119.1 255.8,119.8C254.7,120.4 252.4,120.2 250.8,120.5C249.1,120.8 247.4,121.1 245.8,121.8C244.1,122.4 242.3,124.1 240.8,124.2C239.2,124.4 237.5,123.3 236.5,122.5C235.5,121.7 234.0,120.1 234.5,119.2Z" fill="rgb(240,240,255)"/>
<path d="M178.2,93.0C180.3,92.5 189.9,92.5 192.0,93.0C194.1,93.5 192.0,95.2 190.8,96.0C189.5,96.8 186.4,97.5 184.5,97.5C182.6,97.5 180.5,96.8 179.5,96.0C178.5,95.2 176.2,93.5 178.2,93.0Z" fill="rgb(240,240,255)"/>
<path d="M259.3,154.4C260.3,153.9 262.1,154.1 263.5,154.1C264.9,154.1 266.3,154.2 267.7,154.4C269.1,154.6 270.5,155.1 271.9,155.5C273.2,155.9 274.8,156.2 276.0,156.8C277.3,157.3 278.3,158.0 279.4,158.8C280.5,159.7 281.8,160.7 282.7,161.8C283.7,162.8 284.7,164.0 285.3,165.1C285.8,166.2 285.5,167.6 286.1,168.5C286.6,169.3 287.6,169.7 288.6,170.2C289.6,170.6 292.0,171.0 292.0,171.4C292.0,171.8 289.6,172.2 288.6,172.7C287.6,173.1 286.8,173.4 286.1,173.9C285.4,174.5 285.1,175.3 284.4,176.0C283.7,176.7 282.9,177.4 281.9,178.1C280.9,178.8 279.7,179.4 278.6,180.2C277.4,181.0 276.0,181.7 275.2,182.7C274.4,183.7 274.2,184.8 273.9,186.1C273.7,187.3 274.0,189.1 273.5,190.3C273.0,191.4 271.9,191.9 271.0,192.8C270.2,193.7 269.3,194.9 268.5,195.7C267.7,196.5 267.0,197.3 266.0,197.8C265.0,198.3 263.9,198.5 262.6,198.6C261.4,198.8 259.8,198.7 258.5,198.6C257.1,198.6 255.4,198.9 254.3,198.5C253.1,198.0 252.1,196.9 251.3,196.1C250.6,195.3 250.0,194.4 249.7,193.6C249.3,192.8 248.9,192.0 249.1,191.1C249.2,190.2 249.9,189.1 250.5,188.2C251.1,187.3 252.1,186.7 252.6,185.6C253.1,184.6 253.3,183.2 253.4,181.9C253.5,180.5 253.5,178.8 253.3,177.7C253.0,176.6 252.4,176.3 252.2,175.2C252.0,174.1 252.0,172.4 252.2,171.0C252.3,169.6 252.7,168.1 253.0,166.8C253.4,165.5 253.9,164.6 254.3,163.5C254.6,162.3 254.6,161.1 255.1,160.1C255.6,159.1 256.5,158.1 257.2,157.2C257.9,156.2 258.2,154.9 259.3,154.4Z" fill="rgb(240,240,255)"/>
<path d="M651.8,191.0C652.6,190.4 655.7,189.8 658.0,190.5C660.3,191.2 662.8,193.2 665.5,195.5C668.2,197.8 671.5,201.3 674.2,204.2C677.0,207.2 679.2,210.1 681.8,213.0C684.2,215.9 686.8,218.6 689.2,221.8C691.8,224.9 694.5,228.6 696.8,231.8C699.0,234.9 700.7,237.8 703.0,240.5C705.3,243.2 708.0,245.5 710.5,248.0C713.0,250.5 715.3,252.8 718.0,255.5C720.7,258.2 724.2,261.8 726.8,264.2C729.2,266.8 731.1,268.4 733.0,270.5C734.9,272.6 736.3,274.9 738.0,277.0C739.7,279.1 740.3,282.2 743.0,283.0C745.7,283.8 753.2,280.8 754.2,282.0C755.3,283.2 751.5,289.1 749.2,290.5C747.0,291.9 744.0,290.4 740.5,290.5C737.0,290.6 732.6,290.9 728.0,291.0C723.4,291.1 717.4,291.2 713.0,291.0C708.6,290.8 704.0,290.6 701.8,289.5C699.5,288.4 700.1,286.6 699.2,284.5C698.4,282.4 697.6,279.8 696.8,277.0C695.9,274.2 695.1,271.2 694.2,268.0C693.4,264.8 692.8,261.3 691.8,258.0C690.7,254.7 689.5,251.3 688.0,248.0C686.5,244.7 684.7,241.3 683.0,238.0C681.3,234.7 679.9,231.3 678.0,228.0C676.1,224.7 673.8,221.3 671.8,218.0C669.7,214.7 667.8,211.1 665.5,208.0C663.2,204.9 660.1,201.5 658.0,199.2C655.9,197.0 654.0,195.6 653.0,194.2C652.0,192.9 650.9,191.6 651.8,191.0Z" fill="rgb(240,240,255)"/>
<path d="M740.0,99.2C739.9,98.5 741.7,96.7 743.0,96.0C744.3,95.3 747.4,94.7 748.0,95.0C748.6,95.3 747.5,97.1 746.8,98.0C746.0,98.9 744.6,100.3 743.5,100.5C742.4,100.7 740.1,100.0 740.0,99.2Z" fill="rgb(240,240,255)"/>
<path d="M814.2,206.8C814.8,205.3 816.5,203.8 819.2,203.0C822.0,202.2 828.6,197.2 830.5,201.8C832.4,206.3 831.8,226.8 830.5,230.5C829.2,234.2 824.9,226.3 823.0,224.2C821.1,222.2 820.4,220.1 819.2,218.0C818.1,215.9 816.8,213.6 816.0,211.8C815.2,209.9 813.7,208.2 814.2,206.8Z" fill="rgb(240,240,255)"/>
<path d="M532.2,440.8C532.7,438.9 534.0,437.6 534.8,438.2C535.5,438.9 535.9,442.0 536.5,444.5C537.1,447.0 537.5,450.1 538.5,453.2C539.5,456.4 541.0,460.3 542.2,463.2C543.5,466.2 544.7,468.5 546.0,470.8C547.3,473.0 548.8,473.9 550.0,477.0C551.2,480.1 554.4,487.6 553.5,489.5C552.6,491.4 547.0,489.5 544.8,488.2C542.5,487.0 541.2,484.5 539.8,482.0C538.3,479.5 537.0,476.6 536.0,473.2C535.0,469.9 534.1,466.0 533.5,462.0C532.9,458.0 532.5,453.0 532.2,449.5C532.0,446.0 531.8,442.6 532.2,440.8Z" fill="rgb(240,240,255)"/>
<path d="M421.1,362.2C421.2,361.3 421.7,360.5 422.1,360.0C422.5,359.6 423.2,359.2 423.7,359.4C424.3,359.5 424.9,360.2 425.4,360.8C426.0,361.4 426.7,361.8 426.9,362.7C427.1,363.7 426.9,365.5 426.6,366.5C426.3,367.6 425.5,368.6 425.0,368.9C424.4,369.2 423.6,369.0 423.0,368.5C422.5,367.9 422.1,366.6 421.8,365.6C421.5,364.5 421.1,363.2 421.1,362.2Z" fill="rgb(240,240,255)"/>
<path d="M415.6,457.5C416.0,456.7 417.9,456.0 419.1,456.1C420.2,456.2 421.8,457.4 422.5,458.2C423.2,458.9 423.5,460.0 423.2,460.6C422.9,461.3 421.5,462.0 420.4,462.0C419.4,462.1 417.8,461.7 417.0,460.9C416.2,460.2 415.3,458.3 415.6,457.5Z" fill="rgb(240,240,255)"/>
<path d="M608.0,343.2C608.4,341.9 609.7,340.2 611.2,339.5C612.8,338.8 615.4,338.7 617.5,339.0C619.6,339.3 621.7,341.6 623.8,341.5C625.8,341.4 627.9,339.6 630.0,338.2C632.1,336.9 634.2,334.4 636.2,333.2C638.3,332.1 640.6,331.2 642.5,331.5C644.4,331.8 647.1,333.6 647.5,335.0C647.9,336.4 646.2,338.6 645.0,340.0C643.8,341.4 642.1,342.5 640.0,343.2C637.9,344.0 635.0,344.6 632.5,344.5C630.0,344.4 627.1,342.3 625.0,342.5C622.9,342.7 621.9,344.7 620.0,345.8C618.1,346.8 615.6,348.7 613.8,349.0C611.9,349.3 609.7,348.5 608.8,347.5C607.8,346.5 607.6,344.6 608.0,343.2Z" fill="rgb(240,240,255)"/>
<path d="M533.8,437.5C534.5,437.1 535.0,441.7 535.5,444.5C536.0,447.3 536.0,451.4 537.0,454.5C538.0,457.6 539.7,460.3 541.2,463.2C542.8,466.2 544.6,469.3 546.2,472.0C547.9,474.7 550.0,477.2 551.2,479.5C552.5,481.8 552.9,483.1 553.8,486.0C554.6,488.9 557.7,494.1 556.2,497.0C554.8,499.9 547.7,503.7 545.0,503.2C542.3,502.8 541.5,498.9 540.0,494.5C538.5,490.1 537.3,481.6 536.2,477.0C535.2,472.4 534.4,470.3 533.8,467.0C533.1,463.7 532.9,460.3 532.5,457.0C532.1,453.7 531.0,450.2 531.2,447.0C531.5,443.8 533.0,437.9 533.8,437.5Z" fill="rgb(240,240,255)"/>
<path d="M119.5,486.0C125.0,486.6 117.6,488.7 115.8,489.8C113.9,490.8 110.3,491.2 108.2,492.2C106.2,493.3 104.3,493.7 103.2,496.0C102.2,498.3 102.1,502.7 102.0,506.0C101.9,509.3 103.2,513.1 102.8,516.0C102.3,518.9 100.4,521.2 99.5,523.5C98.6,525.8 97.7,527.7 97.5,529.8C97.3,531.8 97.9,533.3 98.2,536.0C98.6,538.7 99.4,541.8 99.5,546.0C99.6,550.2 99.2,557.2 99.0,561.0C98.8,564.8 98.0,565.6 98.2,568.5C98.5,571.4 100.1,574.8 100.8,578.5C101.4,582.2 101.6,587.2 102.0,591.0C102.4,594.8 102.2,597.7 103.2,601.0C104.3,604.3 106.4,607.7 108.2,611.0C110.1,614.3 112.6,617.9 114.5,621.0C116.4,624.1 117.4,627.7 119.5,629.8C121.6,631.8 124.1,631.8 127.0,633.5C129.9,635.2 133.9,637.7 137.0,639.8C140.1,641.8 143.8,644.3 145.8,646.0C147.8,647.7 148.6,648.5 149.0,649.8C149.4,651.0 149.2,652.7 148.2,653.5C147.3,654.3 145.3,655.2 143.2,654.8C141.2,654.3 138.5,653.1 135.8,651.0C133.0,648.9 129.7,645.2 127.0,642.2C124.3,639.3 122.0,635.8 119.5,633.5C117.0,631.2 114.9,630.4 112.0,628.5C109.1,626.6 104.9,624.3 102.0,622.2C99.1,620.2 97.0,617.9 94.5,616.0C92.0,614.1 88.9,613.5 87.0,611.0C85.1,608.5 84.2,604.3 83.2,601.0C82.3,597.7 81.9,594.8 81.5,591.0C81.1,587.2 81.0,582.7 80.8,578.5C80.5,574.3 80.1,570.2 80.2,566.0C80.4,561.8 81.1,558.5 81.5,553.5C81.9,548.5 82.2,541.4 82.5,536.0C82.8,530.6 83.0,526.0 83.2,521.0C83.5,516.0 84.0,510.6 84.0,506.0C84.0,501.4 83.5,496.8 83.2,493.5C83.0,490.2 76.5,487.2 82.5,486.0C88.5,484.8 114.0,485.4 119.5,486.0Z" fill="rgb(240,240,255)"/>
<path d="M90.0,531.0C91.0,528.0 94.6,529.7 95.8,530.5C96.9,531.3 97.1,533.8 97.0,536.0C96.9,538.2 95.1,540.6 95.0,543.5C94.9,546.4 96.5,550.2 96.5,553.5C96.5,556.8 95.8,560.6 95.0,563.5C94.2,566.4 92.4,570.6 91.5,571.0C90.6,571.4 89.8,569.8 89.5,566.0C89.2,562.2 89.4,554.3 89.5,548.5C89.6,542.7 89.0,534.0 90.0,531.0Z" fill="rgb(255,233,233)"/>
<path d="M225.8,593.5C226.4,592.1 227.8,591.1 229.5,590.5C231.2,589.9 233.8,589.6 235.8,590.0C237.8,590.4 241.0,591.7 241.5,593.0C242.0,594.3 240.2,596.6 239.0,598.0C237.8,599.4 235.8,600.7 234.0,601.5C232.2,602.3 229.7,603.4 228.2,603.0C226.8,602.6 225.9,600.6 225.5,599.0C225.1,597.4 225.1,594.9 225.8,593.5Z" fill="rgb(255,207,207)"/>
<path d="M333.5,562.2C334.8,561.1 338.1,559.9 341.0,559.0C343.9,558.1 347.2,556.8 351.0,556.8C354.8,556.8 359.8,558.1 363.5,559.0C367.2,559.9 370.2,560.8 373.5,562.2C376.8,563.8 379.8,567.4 383.5,568.0C387.2,568.6 392.2,565.8 396.0,566.0C399.8,566.2 402.7,568.0 406.0,569.2C409.3,570.5 412.7,572.3 416.0,573.5C419.3,574.7 423.4,575.0 426.0,576.5C428.6,578.0 431.3,580.2 431.8,582.2C432.2,584.2 430.1,586.4 428.5,588.5C426.9,590.6 423.1,591.8 422.2,594.8C421.4,597.7 422.9,602.9 423.5,606.0C424.1,609.1 425.5,610.8 426.0,613.5C426.5,616.2 425.2,620.0 426.5,622.2C427.8,624.5 430.7,625.2 433.5,627.2C436.3,629.3 440.2,632.2 443.5,634.8C446.8,637.2 450.2,640.4 453.5,642.2C456.8,644.1 460.8,644.8 463.5,646.0C466.2,647.2 468.9,648.3 470.0,649.8C471.1,651.2 471.5,653.2 470.0,654.8C468.5,656.3 464.2,658.5 461.0,659.0C457.8,659.5 455.2,658.3 451.0,658.0C446.8,657.7 441.0,657.4 436.0,657.2C431.0,657.1 424.5,656.8 421.0,657.2C417.5,657.7 415.5,658.3 414.8,659.8C414.0,661.2 415.8,663.9 416.5,666.0C417.2,668.1 419.1,670.4 419.0,672.2C418.9,674.1 417.8,676.3 416.0,677.2C414.2,678.2 411.4,678.4 408.5,678.0C405.6,677.6 402.2,675.9 398.5,674.8C394.8,673.6 389.8,672.1 386.0,671.0C382.2,669.9 379.3,668.8 376.0,668.0C372.7,667.2 369.3,667.7 366.0,666.5C362.7,665.3 358.9,663.0 356.0,661.0C353.1,659.0 351.0,656.9 348.5,654.8C346.0,652.6 341.8,649.9 341.0,648.0C340.2,646.1 342.5,644.6 343.5,643.5C344.5,642.4 347.0,642.3 347.2,641.5C347.5,640.7 346.6,639.6 344.8,638.5C342.9,637.4 335.8,635.5 336.0,634.8C336.2,634.0 343.1,633.8 346.0,634.0C348.9,634.2 351.0,634.9 353.5,636.0C356.0,637.1 358.3,639.2 361.0,640.5C363.7,641.8 366.9,643.8 369.8,644.0C372.6,644.2 377.2,642.8 378.0,641.5C378.8,640.2 376.5,638.0 374.8,636.0C373.0,634.0 369.8,631.8 367.2,629.8C364.8,627.7 362.0,625.6 359.8,623.5C357.5,621.4 356.0,619.3 353.5,617.2C351.0,615.2 346.8,612.9 344.8,611.0C342.7,609.1 341.8,608.5 341.0,606.0C340.2,603.5 340.7,598.9 339.8,596.0C338.8,593.1 336.5,591.0 335.5,588.5C334.5,586.0 334.1,583.7 334.0,581.0C333.9,578.3 335.1,574.8 335.0,572.2C334.9,569.8 333.8,567.7 333.5,566.0C333.2,564.3 332.2,563.4 333.5,562.2Z" fill="rgb(240,240,255)"/>
<path d="M520.0,542.2C521.5,540.4 526.7,539.6 530.0,539.8C533.3,539.9 536.2,541.9 540.0,543.0C543.8,544.1 547.9,545.9 552.5,546.5C557.1,547.1 562.5,546.8 567.5,546.8C572.5,546.7 578.3,546.9 582.5,546.0C586.7,545.1 589.6,543.0 592.5,541.5C595.4,540.0 597.9,539.0 600.0,537.2C602.1,535.5 605.0,533.3 605.0,531.0C605.0,528.7 601.9,525.6 600.0,523.5C598.1,521.4 595.0,519.8 593.8,518.5C592.5,517.2 591.5,515.9 592.5,515.5C593.5,515.1 597.1,515.5 600.0,516.0C602.9,516.5 606.7,517.9 610.0,518.5C613.3,519.1 616.7,519.3 620.0,519.8C623.3,520.2 627.1,520.0 630.0,521.0C632.9,522.0 635.0,524.5 637.5,526.0C640.0,527.5 642.1,529.2 645.0,529.8C647.9,530.2 652.0,530.0 655.0,529.0C658.0,528.0 662.4,525.7 663.0,523.5C663.6,521.3 660.0,518.3 658.8,516.0C657.5,513.7 655.7,512.2 655.5,509.8C655.3,507.2 657.0,503.7 657.5,501.0C658.0,498.3 659.0,496.0 658.8,493.5C658.5,491.0 656.4,487.8 656.2,486.0C656.1,484.2 655.0,483.3 658.0,483.0C661.0,482.7 669.9,481.8 674.2,484.0C678.6,486.2 682.4,492.3 684.2,496.0C686.1,499.7 684.5,502.7 685.5,506.0C686.5,509.3 688.6,512.7 690.5,516.0C692.4,519.3 695.1,522.7 696.8,526.0C698.4,529.3 699.7,532.7 700.5,536.0C701.3,539.3 701.3,542.7 701.8,546.0C702.2,549.3 702.4,552.7 703.0,556.0C703.6,559.3 705.7,562.9 705.5,566.0C705.3,569.1 701.3,572.0 701.8,574.8C702.2,577.5 705.9,579.5 708.0,582.2C710.1,585.0 712.6,587.9 714.2,591.0C715.9,594.1 716.3,598.1 718.0,601.0C719.7,603.9 722.6,606.0 724.2,608.5C725.9,611.0 728.0,613.5 728.0,616.0C728.0,618.5 726.1,621.2 724.2,623.5C722.4,625.8 719.2,628.9 716.8,629.8C714.2,630.6 711.8,629.5 709.2,628.5C706.8,627.5 704.2,625.6 701.8,623.5C699.2,621.4 696.8,618.3 694.2,616.0C691.8,613.7 689.5,611.6 686.8,609.8C684.0,607.9 681.1,606.0 678.0,604.8C674.9,603.5 671.3,602.5 668.0,602.2C664.7,602.0 660.9,603.2 658.0,603.0C655.1,602.8 653.0,602.2 650.5,601.0C648.0,599.8 645.9,597.2 643.0,596.0C640.1,594.8 636.8,593.5 633.0,593.5C629.2,593.5 623.8,595.6 620.0,596.0C616.2,596.4 613.3,596.2 610.0,596.0C606.7,595.8 603.3,595.6 600.0,594.8C596.7,593.9 592.9,592.7 590.0,591.0C587.1,589.3 585.0,586.8 582.5,584.8C580.0,582.7 577.9,580.3 575.0,578.5C572.1,576.7 568.3,575.2 565.0,574.0C561.7,572.8 558.3,572.1 555.0,571.0C551.7,569.9 548.3,568.7 545.0,567.2C541.7,565.8 538.1,563.9 535.0,562.2C531.9,560.6 528.5,559.1 526.2,557.2C524.0,555.4 522.3,553.5 521.2,551.0C520.2,548.5 518.5,544.1 520.0,542.2Z" fill="rgb(240,240,255)"/>
<path d="M620.0,561.0C621.7,560.2 626.7,559.0 630.0,559.0C633.3,559.0 637.5,559.4 640.0,561.0C642.5,562.6 642.5,566.4 645.0,568.5C647.5,570.6 651.2,572.3 655.0,573.5C658.8,574.7 663.7,575.1 667.5,575.5C671.3,575.9 674.8,575.1 678.0,576.0C681.2,576.9 685.7,579.1 686.8,581.0C687.8,582.9 685.7,585.6 684.2,587.2C682.8,588.9 681.1,589.8 678.0,591.0C674.9,592.2 669.3,594.8 665.5,594.8C661.7,594.8 658.4,592.2 655.0,591.0C651.6,589.8 648.0,588.7 645.0,587.2C642.0,585.8 639.1,584.1 637.0,582.2C634.9,580.4 634.3,578.1 632.5,576.0C630.7,573.9 628.3,571.8 626.2,569.8C624.2,567.7 621.0,565.0 620.0,563.5C619.0,562.0 618.3,561.8 620.0,561.0Z" fill="rgb(255,233,233)"/>
<path d="M525.0,582.2C526.2,581.2 529.6,581.2 532.5,582.2C535.4,583.3 539.2,586.6 542.5,588.5C545.8,590.4 549.2,591.9 552.5,593.5C555.8,595.1 559.2,596.7 562.5,598.0C565.8,599.3 569.6,599.8 572.5,601.5C575.4,603.2 577.5,606.5 580.0,608.5C582.5,610.5 584.6,612.0 587.5,613.5C590.4,615.0 594.2,616.4 597.5,617.2C600.8,618.1 603.8,618.1 607.5,618.5C611.2,618.9 616.6,619.1 620.0,619.8C623.4,620.4 625.0,621.2 628.0,622.2C631.0,623.3 634.7,624.3 638.0,626.0C641.3,627.7 644.2,630.2 648.0,632.2C651.8,634.3 656.3,636.6 660.5,638.5C664.7,640.4 668.4,641.6 673.0,643.5C677.6,645.4 683.0,647.7 688.0,649.8C693.0,651.8 698.4,654.1 703.0,656.0C707.6,657.9 711.3,659.4 715.5,661.0C719.7,662.6 723.8,664.6 728.0,665.5C732.2,666.4 737.2,666.2 740.5,666.5C743.8,666.8 747.4,665.5 748.0,667.2C748.6,669.0 745.8,674.1 744.3,676.8C742.9,679.5 742.1,681.9 739.3,683.5C736.5,685.0 731.8,686.3 727.6,686.2C723.4,686.1 719.2,683.9 714.2,682.8C709.2,681.7 703.1,680.8 697.5,679.5C691.9,678.2 686.4,676.1 680.8,675.1C675.2,674.1 669.6,674.0 664.0,673.5C658.5,672.9 651.8,672.4 647.3,671.8C642.9,671.1 639.1,668.6 637.3,669.4C635.5,670.3 636.3,674.2 636.6,676.8C636.9,679.4 639.4,682.9 639.0,685.2C638.5,687.4 636.5,689.2 633.9,690.2C631.4,691.1 626.4,690.0 623.9,690.8C621.4,691.7 617.8,693.6 618.9,695.2C620.0,696.8 624.2,699.2 630.6,700.2C637.0,701.2 647.3,700.9 657.4,701.2C667.4,701.5 679.7,701.5 690.8,701.9C702.0,702.3 714.3,703.0 724.3,703.6C734.2,704.1 746.0,704.4 750.4,705.2C754.7,706.1 754.7,707.9 750.4,708.6C746.0,709.2 734.2,709.2 724.3,709.2C714.3,709.3 702.0,709.0 690.8,708.9C679.7,708.8 668.5,708.8 657.4,708.6C646.2,708.4 632.3,708.0 623.9,707.6C615.5,707.1 612.8,706.5 607.2,705.9C601.6,705.3 596.0,704.8 590.5,704.2C584.9,703.7 579.3,703.1 573.7,702.6C568.2,702.0 561.6,701.3 557.0,700.9C552.4,700.5 549.6,701.0 546.1,700.2C542.6,699.4 538.3,697.9 536.1,696.2C533.8,694.5 532.4,692.3 532.7,690.2C533.0,688.1 536.3,685.4 537.7,683.5C539.1,681.5 541.6,680.1 541.1,678.5C540.5,676.8 536.3,675.1 534.4,673.5C532.4,671.8 530.8,670.4 529.4,668.4C528.0,666.5 525.5,663.2 526.0,661.7C526.6,660.2 529.4,659.7 532.7,659.4C536.1,659.1 542.2,659.4 546.1,660.1C550.0,660.7 553.6,661.5 556.1,663.4C558.6,665.4 558.9,669.5 561.2,671.8C563.4,674.0 565.9,675.1 569.5,676.8C573.1,678.5 578.4,680.4 582.9,681.8C587.4,683.2 592.9,684.3 596.3,685.2C599.6,686.0 602.4,687.7 603.0,686.8C603.5,686.0 601.3,682.4 599.6,680.1C597.9,677.9 594.3,676.2 592.9,673.5C591.5,670.7 590.7,665.9 591.3,663.4C591.8,660.9 592.9,659.5 596.3,658.4C599.7,657.3 607.1,657.0 611.7,656.7C616.3,656.4 622.1,657.3 623.9,656.7C625.7,656.2 625.0,654.5 622.2,653.4C619.4,652.3 612.5,650.0 607.2,650.0C601.9,650.0 594.9,652.5 590.5,653.4C586.0,654.2 583.8,655.3 580.4,655.1C577.1,654.8 573.2,653.1 570.4,651.7C567.6,650.3 565.9,647.8 563.7,646.7C561.5,645.6 557.2,645.8 557.0,645.0C556.8,644.3 560.8,643.8 562.5,642.2C564.2,640.7 565.4,637.9 567.5,636.0C569.6,634.1 572.9,632.7 575.0,631.0C577.1,629.3 579.4,628.1 580.0,626.0C580.6,623.9 580.0,620.8 578.8,618.5C577.5,616.2 575.2,614.1 572.5,612.2C569.8,610.4 565.8,608.7 562.5,607.2C559.2,605.8 555.8,605.0 552.5,603.5C549.2,602.0 545.8,600.2 542.5,598.5C539.2,596.8 535.3,595.2 532.5,593.5C529.7,591.8 526.8,590.4 525.5,588.5C524.2,586.6 523.8,583.3 525.0,582.2Z" fill="rgb(240,240,255)"/>
<path d="M623.8,657.2C624.5,656.0 627.1,654.5 628.8,654.8C630.4,655.0 632.7,656.8 633.8,658.5C634.8,660.2 635.2,663.1 635.0,664.8C634.8,666.4 633.8,668.3 632.5,668.5C631.2,668.7 628.8,667.0 627.5,666.0C626.2,665.0 625.1,663.7 624.5,662.2C623.9,660.8 623.0,658.5 623.8,657.2Z" fill="rgb(255,233,233)"/>
<path d="M583.8,509.8C584.2,509.2 586.4,508.7 587.0,509.0C587.6,509.3 587.9,511.0 587.5,511.5C587.1,512.0 585.1,512.5 584.5,512.2C583.9,512.0 583.3,510.3 583.8,509.8Z" fill="rgb(240,240,255)"/>
<path d="M541.2,486.0C542.7,485.7 549.8,485.6 551.2,486.0C552.7,486.4 550.8,487.9 550.0,488.5C549.2,489.1 547.5,489.6 546.2,489.5C545.0,489.4 543.3,488.6 542.5,488.0C541.7,487.4 539.8,486.3 541.2,486.0Z" fill="rgb(240,240,255)"/>
<path d="M439.7,695.2C440.8,694.1 444.2,692.7 447.4,691.9C450.6,691.0 455.5,689.9 459.1,690.2C462.7,690.5 467.4,692.0 469.2,693.5C470.9,695.1 471.2,698.2 469.8,699.5C468.4,700.9 464.5,701.8 460.8,701.9C457.1,702.0 450.8,700.8 447.4,700.2C444.1,699.7 442.0,699.4 440.7,698.5C439.4,697.7 438.6,696.3 439.7,695.2Z" fill="rgb(240,240,255)"/>
<path d="M170.8,700.2C171.0,698.8 175.1,697.3 177.4,696.9C179.8,696.5 183.5,697.0 185.1,697.9C186.8,698.7 187.9,700.5 187.5,701.9C187.0,703.3 184.4,705.7 182.5,706.2C180.5,706.8 177.7,706.2 175.8,705.2C173.8,704.2 170.5,701.6 170.8,700.2Z" fill="rgb(240,240,255)"/>
<path d="M748.0,483.5C749.7,481.6 758.6,481.8 760.5,483.5C762.4,485.2 760.1,491.0 759.2,493.5C758.4,496.0 757.0,498.3 755.5,498.5C754.0,498.7 751.8,497.2 750.5,494.8C749.2,492.2 746.3,485.4 748.0,483.5Z" fill="rgb(240,240,255)"/>
<path d="M723.0,503.0C723.4,502.4 725.5,501.5 726.8,501.5C728.0,501.5 730.3,502.3 730.5,503.0C730.7,503.7 729.0,505.2 728.0,505.5C727.0,505.8 725.1,505.4 724.2,505.0C723.4,504.6 722.6,503.6 723.0,503.0Z" fill="rgb(240,240,255)"/>
<path d="M792.5,509.8C792.8,508.5 795.1,507.2 796.8,507.2C798.4,507.2 801.9,508.6 802.5,509.8C803.1,510.9 801.8,513.2 800.5,514.0C799.2,514.8 796.3,515.5 795.0,514.8C793.7,514.0 792.2,511.0 792.5,509.8Z" fill="rgb(240,240,255)"/>
<path d="M818.0,512.2C818.2,510.8 820.9,509.6 823.0,509.0C825.1,508.4 829.2,507.0 830.5,508.5C831.8,510.0 832.0,516.4 830.5,518.0C829.0,519.6 823.8,519.0 821.8,518.0C819.7,517.0 817.8,513.8 818.0,512.2Z" fill="rgb(240,240,255)"/>
<path d="M779.2,533.5C781.0,531.8 784.9,531.2 788.0,530.5C791.1,529.8 795.3,528.7 798.0,529.0C800.7,529.3 803.4,530.7 804.2,532.2C805.1,533.8 802.4,536.4 803.0,538.5C803.6,540.6 806.3,544.3 808.0,544.8C809.7,545.2 812.4,542.7 813.0,541.0C813.6,539.3 810.9,535.6 811.8,534.8C812.6,533.9 816.3,535.2 818.0,536.0C819.7,536.8 819.7,539.3 821.8,539.8C823.8,540.2 829.0,536.0 830.5,538.5C832.0,541.0 832.6,551.8 830.5,554.8C828.4,557.7 820.7,556.2 818.0,556.0C815.3,555.8 815.5,553.3 814.2,553.5C813.0,553.7 812.4,556.4 810.5,557.2C808.6,558.1 805.5,558.2 803.0,558.5C800.5,558.8 797.6,559.4 795.5,559.0C793.4,558.6 792.0,557.1 790.5,556.0C789.0,554.9 788.2,552.2 786.8,552.2C785.3,552.2 783.2,556.2 781.8,556.0C780.3,555.8 778.7,553.5 778.0,551.0C777.3,548.5 777.3,543.9 777.5,541.0C777.7,538.1 777.5,535.2 779.2,533.5Z" fill="rgb(240,240,255)"/>
<path d="M774.2,589.8C774.7,587.7 778.2,586.0 780.5,584.8C782.8,583.5 785.1,582.9 788.0,582.2C790.9,581.6 795.5,580.8 798.0,581.0C800.5,581.2 802.4,581.8 803.0,583.5C803.6,585.2 801.8,588.7 801.8,591.0C801.8,593.3 804.0,595.9 803.0,597.2C802.0,598.6 798.4,598.6 795.5,599.0C792.6,599.4 788.4,600.0 785.5,599.8C782.6,599.5 779.9,598.9 778.0,597.2C776.1,595.6 773.8,591.8 774.2,589.8Z" fill="rgb(240,240,255)"/>
<path d="M790.0,618.5C789.6,617.0 791.7,614.1 793.0,612.2C794.3,610.4 795.5,608.5 798.0,607.2C800.5,606.0 805.1,605.4 808.0,604.8C810.9,604.1 813.8,602.9 815.5,603.5C817.2,604.1 818.4,606.4 818.0,608.5C817.6,610.6 815.5,614.1 813.0,616.0C810.5,617.9 805.9,618.9 803.0,619.8C800.1,620.6 797.7,621.2 795.5,621.0C793.3,620.8 790.4,620.0 790.0,618.5Z" fill="rgb(240,240,255)"/>
<path d="M818.0,641.0C818.5,638.7 819.7,637.0 821.8,636.0C823.8,635.0 829.0,630.6 830.5,634.8C832.0,638.9 831.8,657.2 830.5,661.0C829.2,664.8 825.0,659.1 823.0,657.2C821.0,655.4 819.3,652.5 818.5,649.8C817.7,647.0 817.5,643.3 818.0,641.0Z" fill="rgb(240,240,255)"/>
<path d="M674.2,294.0C674.6,293.1 676.5,291.6 677.5,291.5C678.5,291.4 680.2,292.7 680.5,293.5C680.8,294.3 680.1,295.9 679.2,296.5C678.4,297.1 676.3,297.4 675.5,297.0C674.7,296.6 673.9,294.9 674.2,294.0Z" fill="rgb(240,240,255)"/>
<path d="M626.8,338.2C627.8,337.0 630.9,335.5 633.0,334.5C635.1,333.5 637.2,332.3 639.2,332.0C641.3,331.7 644.0,331.9 645.5,332.5C647.0,333.1 648.2,334.4 648.0,335.8C647.8,337.1 645.9,339.4 644.2,340.8C642.6,342.1 640.1,343.6 638.0,344.0C635.9,344.4 633.6,343.6 631.8,343.2C629.9,342.9 627.6,342.8 626.8,342.0C625.9,341.2 625.7,339.5 626.8,338.2Z" fill="rgb(240,240,255)"/>
<path d="M699.2,407.5C699.9,406.0 704.9,406.7 708.0,407.0C711.1,407.3 714.7,408.7 718.0,409.5C721.3,410.3 724.9,410.8 728.0,412.0C731.1,413.2 734.9,415.1 736.8,417.0C738.6,418.9 739.5,421.4 739.2,423.2C739.0,425.1 737.2,426.5 735.5,428.2C733.8,430.0 731.3,432.9 729.2,434.0C727.2,435.1 725.1,435.5 723.0,435.0C720.9,434.5 718.8,432.5 716.8,430.8C714.7,429.0 712.6,427.0 710.5,424.5C708.4,422.0 706.1,418.6 704.2,415.8C702.4,412.9 698.6,409.0 699.2,407.5Z" fill="rgb(240,240,255)"/>
<path d="M830.5,298.2C828.0,281.4 819.0,297.5 815.5,297.0C812.0,296.5 811.3,294.6 809.2,295.0C807.2,295.4 804.9,298.3 803.0,299.5C801.1,300.7 799.7,300.8 798.0,302.0C796.3,303.2 794.7,304.9 793.0,307.0C791.3,309.1 790.1,312.0 788.0,314.5C785.9,317.0 782.8,319.7 780.5,322.0C778.2,324.3 774.7,326.9 774.2,328.2C773.8,329.6 775.7,329.9 778.0,330.0C780.3,330.1 785.1,328.2 788.0,329.0C790.9,329.8 793.4,332.3 795.5,334.5C797.6,336.7 800.1,339.7 800.5,342.0C800.9,344.3 797.4,346.6 798.0,348.2C798.6,349.9 803.0,350.5 804.2,352.0C805.5,353.5 806.1,355.5 805.5,357.0C804.9,358.5 802.6,359.9 800.5,360.8C798.4,361.6 795.1,361.6 793.0,362.0C790.9,362.4 790.1,362.8 788.0,363.2C785.9,363.7 782.4,363.9 780.5,364.5C778.6,365.1 776.8,366.1 776.8,367.0C776.8,367.9 778.6,369.2 780.5,370.0C782.4,370.8 785.9,371.0 788.0,372.0C790.1,373.0 792.0,373.2 793.0,375.8C794.0,378.2 794.2,383.5 794.2,387.0C794.2,390.5 793.1,393.7 793.0,397.0C792.9,400.3 793.1,404.5 793.5,407.0C793.9,409.5 793.9,412.0 795.5,412.0C797.1,412.0 800.1,408.7 803.0,407.0C805.9,405.3 809.7,403.2 813.0,402.0C816.3,400.8 820.1,400.1 823.0,399.5C825.9,398.9 829.2,415.1 830.5,398.2C831.8,381.4 833.0,315.1 830.5,298.2Z" fill="rgb(240,240,255)"/>
<path d="M773.5,380.0C773.9,379.0 775.8,378.1 776.8,378.2C777.7,378.4 779.1,379.8 779.2,380.8C779.4,381.7 778.3,383.5 777.5,384.0C776.7,384.5 774.9,384.7 774.2,384.0C773.6,383.3 773.1,381.0 773.5,380.0Z" fill="rgb(240,240,255)"/>
<path d="M769.2,392.5C770.2,391.9 773.2,390.8 775.5,390.8C777.8,390.8 782.1,391.8 783.0,392.5C783.9,393.2 782.5,394.5 781.0,395.0C779.5,395.5 776.1,395.8 774.2,395.8C772.4,395.7 770.8,395.0 770.0,394.5C769.2,394.0 768.3,393.1 769.2,392.5Z" fill="rgb(240,240,255)"/>
<path d="M760.5,426.5C761.0,425.7 762.7,424.2 764.2,424.0C765.8,423.8 769.2,424.2 770.0,425.0C770.8,425.8 770.2,428.2 769.2,429.0C768.3,429.8 765.6,430.0 764.2,430.0C762.9,430.0 761.6,429.6 761.0,429.0C760.4,428.4 760.0,427.3 760.5,426.5Z" fill="rgb(240,240,255)"/>
<path d="M767.5,437.0C768.0,435.2 770.1,433.6 771.8,433.2C773.4,432.9 776.5,433.8 777.5,435.0C778.5,436.2 778.5,439.1 778.0,440.8C777.5,442.4 775.8,444.5 774.2,445.0C772.7,445.5 769.6,445.3 768.5,444.0C767.4,442.7 767.0,438.8 767.5,437.0Z" fill="rgb(240,240,255)"/>
<path d="M784.2,427.0C785.0,426.3 787.0,425.7 788.0,426.5C789.0,427.3 789.9,429.8 790.5,432.0C791.1,434.2 790.5,437.0 791.8,439.5C793.0,442.0 796.1,444.9 798.0,447.0C799.9,449.1 801.3,452.0 803.0,452.0C804.7,452.0 806.5,448.2 808.0,447.0C809.5,445.8 810.5,444.3 811.8,444.5C813.0,444.7 814.0,447.4 815.5,448.2C817.0,449.1 818.0,449.7 820.5,449.5C823.0,449.3 828.8,444.9 830.5,447.0C832.2,449.1 832.2,458.7 830.5,462.0C828.8,465.3 823.4,464.9 820.5,467.0C817.6,469.1 815.5,472.4 813.0,474.5C810.5,476.6 807.6,477.6 805.5,479.5C803.4,481.4 801.8,483.9 800.5,486.0C799.2,488.1 800.9,491.0 798.0,492.0C795.1,493.0 788.0,492.4 783.0,492.0C778.0,491.6 769.2,492.0 768.0,489.5C766.8,487.0 773.0,479.9 775.5,477.0C778.0,474.1 780.7,473.7 783.0,472.0C785.3,470.3 788.0,469.1 789.2,467.0C790.5,464.9 790.7,462.0 790.5,459.5C790.3,457.0 789.0,454.5 788.0,452.0C787.0,449.5 784.7,447.0 784.2,444.5C783.8,442.0 785.6,439.3 785.5,437.0C785.4,434.7 783.7,432.4 783.5,430.8C783.3,429.1 783.5,427.7 784.2,427.0Z" fill="rgb(240,240,255)"/>
<path d="M53.8,722.8C55.3,721.1 56.2,716.8 57.4,713.8C58.6,710.8 59.6,707.2 61.0,704.8C62.3,702.4 64.0,700.7 65.5,699.4C67.0,698.2 68.0,697.6 69.9,697.3C71.9,697.0 75.1,697.4 77.1,697.7C79.2,698.0 81.5,697.3 82.1,699.1C82.7,700.9 80.9,705.2 80.7,708.4C80.5,711.6 81.7,715.3 81.1,718.3C80.5,721.3 78.4,724.1 77.1,726.4C75.8,728.7 75.0,731.2 73.2,732.1C71.4,733.0 68.4,731.7 66.4,731.7C64.3,731.7 62.0,730.7 61.0,732.1C59.9,733.5 62.2,738.3 60.1,740.0C58.0,741.7 50.4,745.2 48.4,742.5C46.5,739.8 47.5,727.0 48.4,723.7C49.3,720.4 52.3,724.4 53.8,722.8Z" fill="rgb(255,207,207)"/>
<path d="M66.1,708.6C66.9,706.2 68.9,703.4 70.4,702.9C71.8,702.3 73.7,703.4 74.7,705.2C75.8,707.0 76.8,710.8 76.8,713.6C76.8,716.4 76.1,720.4 74.7,722.0C73.4,723.5 70.3,723.8 68.7,723.0C67.2,722.1 65.8,719.3 65.4,716.9C64.9,714.5 65.2,710.9 66.1,708.6Z" fill="rgb(255,175,175)"/>
<path d="M70.6,711.3L72.2,711.3L72.2,713.0L70.6,713.0Z" fill="rgb(255,143,143)"/>
<path d="M126.3,638.3C127.7,636.9 137.0,636.7 140.6,638.3C144.3,640.0 147.2,645.7 148.3,648.4C149.5,651.0 148.8,653.5 147.3,654.1C145.9,654.6 142.2,652.9 139.6,651.7C137.1,650.5 134.5,648.9 132.3,646.7C130.1,644.5 124.9,639.7 126.3,638.3Z" fill="rgb(240,240,255)"/>
<path d="M134.0,719.3C133.9,718.7 135.7,717.6 136.6,717.6C137.6,717.6 139.6,718.7 139.6,719.3C139.7,719.8 137.9,721.0 137.0,721.0C136.0,721.0 134.0,719.8 134.0,719.3Z" fill="rgb(255,207,207)"/>
<path d="M226.0,719.6C227.3,718.7 234.3,717.0 239.3,716.3C244.4,715.5 250.5,715.3 256.1,715.3C261.6,715.3 268.3,715.7 272.8,716.3C277.2,716.8 282.3,717.6 282.8,718.6C283.4,719.6 280.0,721.3 276.1,722.3C272.2,723.2 265.0,724.2 259.4,724.3C253.8,724.4 247.4,723.4 242.7,723.0C237.9,722.6 233.8,722.5 231.0,722.0C228.2,721.4 224.6,720.6 226.0,719.6Z" fill="rgb(255,207,207)"/>
<path d="M305.6,719.6C306.4,718.6 310.0,716.6 312.9,715.9C315.8,715.3 320.4,715.5 323.0,715.9C325.5,716.4 328.0,717.6 328.3,718.6C328.6,719.7 326.9,721.5 324.6,722.3C322.4,723.1 317.4,723.6 314.6,723.6C311.8,723.6 309.4,723.0 307.9,722.3C306.4,721.6 304.7,720.7 305.6,719.6Z" fill="rgb(255,207,207)"/>
<path d="M152.4,742.0C149.2,740.7 155.1,736.0 157.4,734.3C159.6,732.7 163.1,732.2 165.7,732.3C168.4,732.5 171.3,733.7 173.1,735.3C174.9,737.0 179.9,740.9 176.4,742.0C173.0,743.1 155.5,743.3 152.4,742.0Z" fill="rgb(255,207,207)"/>
<path d="M255.4,742.0C242.6,740.4 257.6,734.3 259.4,732.0C261.2,729.7 262.8,728.5 266.1,728.0C269.4,727.4 275.0,728.1 279.5,728.6C283.9,729.2 288.4,730.2 292.9,731.0C297.3,731.8 301.8,732.7 306.2,733.7C310.7,734.7 314.6,735.6 319.6,737.0C324.6,738.4 347.1,741.2 336.3,742.0C325.6,742.9 268.2,743.7 255.4,742.0Z" fill="rgb(255,207,207)"/>
<path d="M428.3,711.3C429.7,710.1 437.3,710.8 442.4,710.9C447.5,711.0 453.0,711.8 459.1,711.9C465.3,712.1 472.5,711.9 479.2,711.9C485.9,711.9 493.7,712.8 499.3,711.9C504.8,711.1 508.2,708.2 512.6,706.9C517.1,705.6 520.5,704.5 526.0,704.2C531.6,704.0 539.4,704.5 546.1,705.2C552.8,706.0 559.5,707.3 566.2,708.6C572.9,709.9 580.7,711.4 586.2,712.9C591.8,714.4 597.9,716.4 599.6,717.6C601.3,718.8 599.6,719.6 596.3,720.3C592.9,721.0 585.7,721.4 579.6,722.0C573.4,722.5 566.2,723.6 559.5,723.6C552.8,723.6 546.1,722.5 539.4,722.0C532.7,721.4 525.5,720.3 519.3,720.3C513.2,720.3 508.7,721.4 502.6,722.0C496.5,722.5 488.7,723.4 482.5,723.6C476.4,723.9 471.9,724.0 465.8,723.6C459.7,723.2 451.0,722.3 445.7,721.3C440.4,720.3 436.9,719.3 434.0,717.6C431.1,715.9 427.0,712.4 428.3,711.3Z" fill="rgb(255,207,207)"/>
<path d="M526.0,711.9C526.9,711.0 531.6,710.0 536.1,709.6C540.5,709.2 548.3,709.2 552.8,709.6C557.2,710.0 562.3,711.0 562.8,711.9C563.4,712.9 559.5,714.4 556.1,715.3C552.8,716.1 546.9,716.9 542.8,716.9C538.6,716.9 533.8,716.1 531.0,715.3C528.3,714.4 525.2,712.9 526.0,711.9Z" fill="rgb(255,175,175)"/>
<path d="M625.6,719.3C625.6,718.4 634.2,717.5 640.6,716.9C647.0,716.4 655.7,715.9 664.0,715.9C672.4,715.9 682.4,716.6 690.8,716.9C699.2,717.3 707.8,717.6 714.2,717.9C720.6,718.3 729.3,718.8 729.3,719.3C729.3,719.8 720.6,720.4 714.2,721.0C707.8,721.5 699.2,722.3 690.8,722.6C682.4,723.0 672.4,723.1 664.0,723.0C655.7,722.9 647.0,722.6 640.6,722.0C634.2,721.3 625.6,720.1 625.6,719.3Z" fill="rgb(255,207,207)"/>
<path d="M817.9,638.3C819.6,636.4 826.9,634.7 828.6,638.3C830.4,642.0 829.6,657.0 828.6,660.1C827.7,663.1 824.6,658.4 822.9,656.7C821.3,655.1 819.4,653.1 818.6,650.0C817.8,647.0 816.3,640.3 817.9,638.3Z" fill="rgb(240,240,255)"/></g>
<g fill="none" stroke="rgb(128,128,128)" stroke-opacity="0.25" stroke-width="0.8" stroke-dasharray="2.6 1.1"><line x1="60.3" y1="68.5" x2="33.5" y2="739"/>
<line x1="171.2" y1="68.5" x2="152.3" y2="739"/>
<line x1="283.3" y1="68.5" x2="272.3" y2="739"/>
<line x1="393.5" y1="68.5" x2="390.3" y2="739"/>
<line x1="507.0" y1="68.5" x2="511.7" y2="739"/>
<line x1="619.0" y1="68.5" x2="631.6" y2="739"/>
<line x1="730.5" y1="68.5" x2="751.0" y2="739"/>
<path d="M52.0,106.0C58.7,106.3 78.7,107.1 92.0,107.6C105.3,108.1 118.7,108.6 132.0,109.1C145.3,109.5 158.7,109.9 172.0,110.3C185.3,110.7 198.7,111.1 212.0,111.4C225.3,111.8 238.7,112.1 252.0,112.4C265.3,112.6 278.7,112.9 292.0,113.1C305.3,113.3 318.7,113.5 332.0,113.7C345.3,113.8 358.7,113.9 372.0,114.0C385.3,114.1 398.7,114.2 412.0,114.3C425.3,114.3 438.7,114.3 452.0,114.3C465.3,114.3 478.7,114.2 492.0,114.2C505.3,114.1 518.7,114.0 532.0,113.8C545.3,113.7 558.7,113.5 572.0,113.3C585.3,113.1 598.7,112.9 612.0,112.7C625.3,112.4 638.7,112.1 652.0,111.8C665.3,111.5 678.7,111.2 692.0,110.8C705.3,110.4 718.7,110.0 732.0,109.6C745.3,109.2 758.7,108.7 772.0,108.2C785.3,107.7 802.7,107.0 812.0,106.7C821.3,106.3 825.3,106.1 828.0,106.0"/>
<path d="M52.0,202.3C58.7,202.6 78.7,203.4 92.0,203.9C105.3,204.4 118.7,204.9 132.0,205.3C145.3,205.8 158.7,206.2 172.0,206.6C185.3,207.0 198.7,207.4 212.0,207.7C225.3,208.0 238.7,208.4 252.0,208.6C265.3,208.9 278.7,209.2 292.0,209.4C305.3,209.6 318.7,209.8 332.0,209.9C345.3,210.1 358.7,210.2 372.0,210.3C385.3,210.4 398.7,210.5 412.0,210.5C425.3,210.6 438.7,210.6 452.0,210.6C465.3,210.6 478.7,210.5 492.0,210.4C505.3,210.4 518.7,210.2 532.0,210.1C545.3,210.0 558.7,209.8 572.0,209.6C585.3,209.4 598.7,209.2 612.0,208.9C625.3,208.7 638.7,208.4 652.0,208.1C665.3,207.8 678.7,207.4 692.0,207.1C705.3,206.7 718.7,206.3 732.0,205.9C745.3,205.4 758.7,205.0 772.0,204.5C785.3,204.0 802.7,203.3 812.0,203.0C821.3,202.6 825.3,202.4 828.0,202.3"/>
<path d="M52.0,298.6C58.7,298.8 78.7,299.7 92.0,300.2C105.3,300.7 118.7,301.2 132.0,301.6C145.3,302.1 158.7,302.5 172.0,302.9C185.3,303.3 198.7,303.7 212.0,304.0C225.3,304.3 238.7,304.6 252.0,304.9C265.3,305.2 278.7,305.4 292.0,305.7C305.3,305.9 318.7,306.1 332.0,306.2C345.3,306.4 358.7,306.5 372.0,306.6C385.3,306.7 398.7,306.8 412.0,306.8C425.3,306.9 438.7,306.9 452.0,306.9C465.3,306.8 478.7,306.8 492.0,306.7C505.3,306.6 518.7,306.5 532.0,306.4C545.3,306.3 558.7,306.1 572.0,305.9C585.3,305.7 598.7,305.5 612.0,305.2C625.3,305.0 638.7,304.7 652.0,304.4C665.3,304.1 678.7,303.7 692.0,303.4C705.3,303.0 718.7,302.6 732.0,302.2C745.3,301.7 758.7,301.3 772.0,300.8C785.3,300.3 802.7,299.6 812.0,299.2C821.3,298.9 825.3,298.7 828.0,298.6"/>
<path d="M52.0,394.8C58.7,395.1 78.7,396.0 92.0,396.5C105.3,397.0 118.7,397.5 132.0,397.9C145.3,398.4 158.7,398.8 172.0,399.2C185.3,399.6 198.7,399.9 212.0,400.3C225.3,400.6 238.7,400.9 252.0,401.2C265.3,401.5 278.7,401.7 292.0,401.9C305.3,402.1 318.7,402.3 332.0,402.5C345.3,402.7 358.7,402.8 372.0,402.9C385.3,403.0 398.7,403.1 412.0,403.1C425.3,403.1 438.7,403.1 452.0,403.1C465.3,403.1 478.7,403.1 492.0,403.0C505.3,402.9 518.7,402.8 532.0,402.7C545.3,402.5 558.7,402.4 572.0,402.2C585.3,402.0 598.7,401.8 612.0,401.5C625.3,401.3 638.7,401.0 652.0,400.7C665.3,400.4 678.7,400.0 692.0,399.6C705.3,399.3 718.7,398.9 732.0,398.4C745.3,398.0 758.7,397.6 772.0,397.1C785.3,396.6 802.7,395.9 812.0,395.5C821.3,395.1 825.3,395.0 828.0,394.8"/>
<path d="M52.0,491.1C58.7,491.4 78.7,492.2 92.0,492.7C105.3,493.3 118.7,493.7 132.0,494.2C145.3,494.6 158.7,495.1 172.0,495.5C185.3,495.9 198.7,496.2 212.0,496.6C225.3,496.9 238.7,497.2 252.0,497.5C265.3,497.7 278.7,498.0 292.0,498.2C305.3,498.4 318.7,498.6 332.0,498.8C345.3,498.9 358.7,499.1 372.0,499.2C385.3,499.3 398.7,499.3 412.0,499.4C425.3,499.4 438.7,499.4 452.0,499.4C465.3,499.4 478.7,499.3 492.0,499.3C505.3,499.2 518.7,499.1 532.0,499.0C545.3,498.8 558.7,498.7 572.0,498.5C585.3,498.3 598.7,498.0 612.0,497.8C625.3,497.5 638.7,497.3 652.0,496.9C665.3,496.6 678.7,496.3 692.0,495.9C705.3,495.5 718.7,495.1 732.0,494.7C745.3,494.3 758.7,493.8 772.0,493.3C785.3,492.9 802.7,492.2 812.0,491.8C821.3,491.4 825.3,491.2 828.0,491.1"/>
<path d="M52.0,587.4C58.7,587.7 78.7,588.5 92.0,589.0C105.3,589.5 118.7,590.0 132.0,590.5C145.3,590.9 158.7,591.3 172.0,591.7C185.3,592.1 198.7,592.5 212.0,592.8C225.3,593.2 238.7,593.5 252.0,593.8C265.3,594.0 278.7,594.3 292.0,594.5C305.3,594.7 318.7,594.9 332.0,595.1C345.3,595.2 358.7,595.3 372.0,595.4C385.3,595.5 398.7,595.6 412.0,595.7C425.3,595.7 438.7,595.7 452.0,595.7C465.3,595.7 478.7,595.6 492.0,595.6C505.3,595.5 518.7,595.4 532.0,595.2C545.3,595.1 558.7,594.9 572.0,594.7C585.3,594.5 598.7,594.3 612.0,594.1C625.3,593.8 638.7,593.5 652.0,593.2C665.3,592.9 678.7,592.6 692.0,592.2C705.3,591.8 718.7,591.4 732.0,591.0C745.3,590.6 758.7,590.1 772.0,589.6C785.3,589.1 802.7,588.4 812.0,588.1C821.3,587.7 825.3,587.5 828.0,587.4"/>
<path d="M52.0,683.7C58.7,684.0 78.7,684.8 92.0,685.3C105.3,685.8 118.7,686.3 132.0,686.7C145.3,687.2 158.7,687.6 172.0,688.0C185.3,688.4 198.7,688.8 212.0,689.1C225.3,689.4 238.7,689.8 252.0,690.0C265.3,690.3 278.7,690.6 292.0,690.8C305.3,691.0 318.7,691.2 332.0,691.3C345.3,691.5 358.7,691.6 372.0,691.7C385.3,691.8 398.7,691.9 412.0,691.9C425.3,692.0 438.7,692.0 452.0,692.0C465.3,692.0 478.7,691.9 492.0,691.8C505.3,691.8 518.7,691.6 532.0,691.5C545.3,691.4 558.7,691.2 572.0,691.0C585.3,690.8 598.7,690.6 612.0,690.3C625.3,690.1 638.7,689.8 652.0,689.5C665.3,689.2 678.7,688.8 692.0,688.5C705.3,688.1 718.7,687.7 732.0,687.3C745.3,686.8 758.7,686.4 772.0,685.9C785.3,685.4 802.7,684.7 812.0,684.4C821.3,684.0 825.3,683.8 828.0,683.7"/></g>
<g fill="none" stroke="#000" stroke-width="1.45" stroke-linejoin="round" stroke-linecap="round">
<path d="M783.0,67.7L781.8,71.5L781.5,75.8L779.0,86.4L774.7,93.2L770.9,95.1L767.2,96.1L764.1,98.8L761.0,103.8L758.5,108.8L756.6,113.8L755.6,118.7L756.0,121.2L755.4,125.0L754.8,129.9L753.9,136.2L753.2,142.4L752.3,149.8L751.7,156.1L751.0,161.0L751.7,164.8L752.9,166.6L753.5,163.5L754.8,162.3L755.1,158.5L754.4,156.1L756.0,152.9L758.5,149.6L761.0,152.9L763.5,157.3L766.0,162.3L768.5,168.0L766.6,163.7L769.7,168.7L772.2,172.4L775.3,175.6L777.2,177.4L776.8,173.7L776.5,170.0L778.0,169.0L779.3,171.8L780.9,171.2L782.5,172.2L781.3,174.3L780.3,176.2L782.1,175.6L784.0,178.7L785.9,183.0L787.7,186.7L790.2,189.9L792.5,192.6L792.7,195.5L791.5,197.3L790.0,197.9L790.8,199.8L792.5,202.9L791.5,206.0L789.6,208.5L787.7,209.8L785.2,212.2L783.4,214.7L782.8,217.2L780.9,218.2L780.5,219.7L782.1,221.0L783.4,222.8L784.6,224.1L786.5,227.2L784.0,229.7L782.1,232.2L780.9,233.6L779.0,234.6L780.3,236.5L780.9,239.0L782.8,240.6L785.9,241.9L789.0,244.0L791.5,247.1L794.0,251.4L795.8,256.4L797.1,261.4L796.4,266.0L798.9,269.7L800.8,273.4L802.0,277.1L802.9,283.4L803.9,290.8L804.7,298.3L804.9,305.8L804.7,312.0L804.2,317.0L802.7,323.2L800.8,329.4L798.3,336.9L795.8,343.1L793.3,348.1L791.5,353.0L788.4,362.0L787.1,366.9L787.2,371.9L785.9,376.9L784.3,381.9L784.0,385.6L784.6,391.8L785.2,399.3L785.2,404.2L785.0,407.4L782.1,413.0L778.4,419.2L774.7,425.4L770.9,432.9L766.6,439.1L762.2,444.7L757.9,449.7L754.1,452.1L750.4,454.0L752.9,452.4L749.2,454.8L745.4,456.7L742.3,457.7L740.2,458.6L742.3,460.4L744.8,463.2L745.4,460.4L748.6,459.4L752.3,460.4L755.4,462.3L757.9,464.8L759.7,467.9L762.2,471.0L765.3,472.9L767.8,474.7L769.1,477.9L770.3,481.0L772.2,484.1L774.1,486.6L775.9,489.7L776.8,492.8L776.8,495.9L777.2,499.0L777.8,501.5L779.7,502.1L780.9,504.0L782.8,502.7L784.6,500.9L786.5,501.5L785.2,504.0L784.0,506.5L784.6,509.0L786.5,510.2L786.5,512.7L787.7,515.8L788.4,518.9L789.6,522.0L791.5,523.9L795.2,524.5L798.9,524.9L801.4,523.9L803.3,521.4L806.4,519.5L811.4,518.7L817.6,517.9L822.6,517.4L828.8,516.4"/>
<path d="M785.2,212.2L788.4,209.8L790.8,209.1L792.1,211.6L791.5,214.7L789.6,217.8L787.7,221.0L785.9,223.4L784.6,222.2L785.9,218.5L787.1,215.4L785.9,214.1Z"/>
<path d="M782.1,232.2L784.0,229.0L787.1,227.2L789.6,225.9L790.2,227.8L788.4,230.9L785.9,233.4L783.4,234.4Z"/>
<path d="M776.8,492.8L779.0,490.9L782.1,489.1L780.9,490.9L779.7,493.4L782.8,494.0L785.9,492.2L787.7,489.1L789.6,485.9L791.5,484.1L795.2,484.7L792.7,485.9L790.8,487.8L789.0,490.9L787.1,493.4L787.7,495.3L789.6,494.0L790.2,497.8L790.5,501.5L789.0,502.1L788.7,499.0L787.7,497.1L785.9,499.0L784.6,500.9"/>
<path d="M785.2,505.2L787.1,504.0L789.0,505.2L789.6,507.7L788.4,509.6L786.5,510.0L785.0,508.3Z"/>
<path d="M828.8,517.4L820.1,518.7L813.9,519.5L807.6,520.8L803.9,522.6L803.3,525.8L805.2,527.6L807.4,527.0L805.2,527.6L803.9,525.8L802.7,524.5L798.9,526.4L796.4,527.6L795.8,530.1L795.0,528.9L792.7,527.6L789.6,527.0L787.7,525.1L786.5,522.0L785.9,519.5L784.6,518.7L782.5,517.7L780.3,519.5L777.8,522.0L775.9,524.5L775.9,528.9L777.2,533.8L778.4,540.1L779.0,546.3L778.4,550.0L779.7,550.8L778.0,551.5L779.0,554.6L780.3,556.4L779.7,559.6L780.9,562.0L783.4,561.4L785.2,559.6L786.5,556.4L785.9,553.3L787.1,552.1L787.7,555.2L789.0,557.7L790.2,555.8L792.1,556.4L792.7,558.9L795.2,560.2L797.7,561.4L800.8,560.8L803.9,559.6L807.6,558.9L811.4,558.3L813.9,556.4L814.5,554.0L815.7,556.4L817.6,558.3L820.1,558.9L822.6,560.2L825.1,559.6L828.8,558.7"/>
<path d="M780.9,562.0L780.3,562.7L778.4,565.1L778.0,568.3L779.7,570.7L782.1,573.2L785.2,574.5L788.4,576.3L790.8,578.8L794.0,580.7L797.1,580.3L800.2,578.8L802.7,577.0L806.4,574.5L810.1,572.4L813.2,571.1L810.1,573.2L807.0,575.7L804.5,578.2L803.3,580.1L801.4,578.2L800.8,580.7L800.2,583.8L800.8,586.9L802.7,590.0L805.8,592.5L808.9,593.8L812.6,594.0L815.7,593.1L818.8,591.3L821.3,588.8L824.4,587.5L828.8,586.7"/>
<path d="M810.1,595.6L813.2,593.8L816.3,594.4L815.7,597.5L813.9,600.0L811.4,599.4Z"/>
<path d="M818.8,598.7L820.1,593.8L822.6,590.0L825.1,589.4L823.8,593.8L821.9,598.1L820.1,600.6Z"/>
<path d="M825.1,599.4L826.1,594.4L828.8,591.9"/>
<path d="M797.7,611.8L800.8,610.6L804.5,609.3L806.4,610.6L805.8,612.4L808.9,612.2L810.1,613.4L807.6,615.2L804.5,615.5L802.7,613.7L799.6,613.4Z"/>
<path d="M814.5,614.3L816.3,611.2L818.2,608.1L820.7,607.4L822.3,609.9L821.9,613.7L820.1,616.2L817.0,616.8Z"/>
<path d="M805.2,624.9L807.4,622.6L810.4,622.6L811.1,624.6L809.1,626.7L806.4,627.1Z"/>
<path d="M807.0,632.3L809.5,629.8L812.6,627.6L815.1,627.1L816.3,629.8L817.6,627.3L820.1,627.1L821.6,629.8L822.8,627.6L824.4,629.8L824.8,632.9L822.6,634.2L818.8,633.8L815.7,635.4L812.0,636.1L808.9,634.8Z"/>
<path d="M816.6,629.8L816.1,634.2"/>
<path d="M820.1,627.1L820.1,633.8"/>
<path d="M821.9,629.8L822.3,633.8"/>
<path d="M828.8,621.8L825.7,622.1L824.1,624.2L825.1,626.4L828.8,626.7"/>
<path d="M377.2,352.2L379.1,350.3L382.4,348.4L385.8,346.5L388.6,345.3L391.5,345.7L392.9,347.2L393.4,349.1L395.3,350.1L394.7,352.0L392.9,353.6L390.5,354.9L388.2,356.2L386.2,357.9L383.4,358.7L380.0,358.9L379.1,357.2L378.6,354.6L377.5,353.6Z"/>
<path d="M389.6,362.7L391.0,360.6L393.4,359.4L396.3,358.7L398.2,359.7L399.2,361.8L398.7,363.5L396.3,364.6L393.4,365.1L391.2,364.4Z"/>
<path d="M419.7,371.8L421.6,370.6L424.0,370.6L425.4,371.8L428.3,372.1L432.1,372.8L435.9,373.4L438.3,374.4L438.6,376.1L436.9,376.9L434.0,376.3L431.2,375.6L428.8,375.1L427.3,375.9L425.9,377.5L425.0,379.9L424.0,379.0L423.0,376.6L421.6,374.7L420.2,373.7Z"/>
<path d="M486.1,363.5L487.9,361.9L489.9,361.6L490.9,363.9L490.6,366.7L491.3,369.4L491.0,372.6L489.6,374.3L488.5,372.2L487.9,369.4L486.5,367.4Z"/>
<path d="M489.6,391.9L491.3,393.2L493.4,392.4L496.1,391.9L499.3,393.2L501.2,396.3L500.9,399.7L498.2,402.5L494.7,403.8L491.3,403.4L488.5,401.8L487.4,399.0L489.2,396.3Z"/>
<path d="M449.7,436.8L451.4,435.2L453.5,436.2L454.2,438.6L456.9,441.4L460.3,444.4L463.8,447.9L465.4,451.3L463.8,454.3L461.0,455.7L457.6,455.4L454.2,453.8L451.4,451.3L449.7,447.9L450.0,444.4L450.7,441.0L450.3,438.6Z"/>
<path d="M474.8,437.5L476.8,435.5L479.6,435.9L481.0,438.9L481.0,442.4L479.2,444.7L476.8,445.4L474.8,443.7L474.4,440.6Z"/>
<path d="M415.6,454.0L417.7,451.0L421.1,449.2L424.2,449.9L426.0,452.7L426.4,456.1L425.0,458.9L421.8,460.2L418.4,459.5L416.3,457.5Z"/>
<path d="M404.4,457.5L405.7,456.2L407.7,456.8L408.3,458.9L407.4,460.6L405.5,460.9L404.4,459.5Z"/>
<path d="M403.0,364.6L404.9,364.4L406.8,365.6L408.7,366.7L408.2,368.0L406.3,368.3L404.4,367.3L403.3,366.1Z" fill="#000"/>
<path d="M411.3,373.0L413.0,372.8L414.0,373.7L413.0,374.7L411.6,374.4Z" fill="#000"/>
<path d="M777.2,492.4L777.7,496.2L778.1,499.5L779.6,501.9L780.8,503.8" stroke-width="2.4"/>
<path d="M778.1,491.9L779.6,490.2L782.0,488.9" stroke-width="2.4"/>
<path d="M783.9,492.4L785.8,490.9L787.7,488.3L789.9,485.7L791.5,484.1L793.9,484.7L795.8,485.1" stroke-width="2.4"/>
<path d="M779.6,493.3L782.0,493.8L783.9,494.5L785.8,492.8" stroke-width="2.4"/>
<path d="M790.3,492.8L789.7,496.2L789.1,499.1L790.3,501.9L788.2,500.5L785.8,500.2L783.9,501.0" stroke-width="2.4"/>
<path d="M785.3,509.6L787.9,508.6L789.6,506.7L789.2,505.7" stroke-width="2.4"/>
</g>
<rect x="72.4" y="74.7" width="735.4" height="19.8" fill="#fff"/>
</g>
<line x1="52.5" y1="739.2" x2="827.5" y2="739.2" stroke="#a8a8a8" stroke-width="0.7"/>
<path d="M52.5,739.8 L52.5,68.5 L827.5,68.5 L827.5,739.8" fill="none" stroke="#000" stroke-width="1.1"/>
<g font-family="Liberation Sans, sans-serif" fill="#000">
<text x="79.4" y="90.8" font-size="14.6" text-anchor="start" textLength="228.5" lengthAdjust="spacingAndGlyphs" >Start date: 2024-11-26_00:00:00</text>
<text x="545" y="90.8" font-size="14.6" text-anchor="start" textLength="254.5" lengthAdjust="spacingAndGlyphs" >Valid_date: 2024-11-28T18:00:00.00</text>
<text x="10.6" y="111.2" font-size="14.6" text-anchor="start" textLength="34.5" lengthAdjust="spacingAndGlyphs" >22°N</text>
<text x="10.6" y="207.4" font-size="14.6" text-anchor="start" textLength="34.5" lengthAdjust="spacingAndGlyphs" >20°N</text>
<text x="10.6" y="303.7" font-size="14.6" text-anchor="start" textLength="34.5" lengthAdjust="spacingAndGlyphs" >18°N</text>
<text x="10.6" y="400" font-size="14.6" text-anchor="start" textLength="34.5" lengthAdjust="spacingAndGlyphs" >16°N</text>
<text x="10.6" y="496.2" font-size="14.6" text-anchor="start" textLength="34.5" lengthAdjust="spacingAndGlyphs" >14°N</text>
<text x="10.6" y="592.5" font-size="14.6" text-anchor="start" textLength="34.5" lengthAdjust="spacingAndGlyphs" >12°N</text>
<text x="10.6" y="688.8" font-size="14.6" text-anchor="start" textLength="34.5" lengthAdjust="spacingAndGlyphs" >10°N</text>
<text x="65.0" y="63.2" font-size="14.6" text-anchor="start" textLength="50.2" lengthAdjust="spacingAndGlyphs" transform="rotate(-90 65.0 63.2)" >32.5°W</text>
<text x="176.8" y="63.2" font-size="14.6" text-anchor="start" textLength="35.4" lengthAdjust="spacingAndGlyphs" transform="rotate(-90 176.8 63.2)" >30°W</text>
<text x="288.1" y="63.2" font-size="14.6" text-anchor="start" textLength="50.2" lengthAdjust="spacingAndGlyphs" transform="rotate(-90 288.1 63.2)" >27.5°W</text>
<text x="399.0" y="63.2" font-size="14.6" text-anchor="start" textLength="35.4" lengthAdjust="spacingAndGlyphs" transform="rotate(-90 399.0 63.2)" >25°W</text>
<text x="511.5" y="63.2" font-size="14.6" text-anchor="start" textLength="50.2" lengthAdjust="spacingAndGlyphs" transform="rotate(-90 511.5 63.2)" >22.5°W</text>
<text x="622.1" y="63.2" font-size="14.6" text-anchor="start" textLength="35.4" lengthAdjust="spacingAndGlyphs" transform="rotate(-90 622.1 63.2)" >20°W</text>
<text x="734.3" y="63.2" font-size="14.6" text-anchor="start" textLength="50.2" lengthAdjust="spacingAndGlyphs" transform="rotate(-90 734.3 63.2)" >17.5°W</text>
 <rect x="105.00" y="745.4" width="20.58" height="26.399999999999977" fill="rgb(15, 15, 255)"/>
 <rect x="125.28" y="745.4" width="20.58" height="26.399999999999977" fill="rgb(47, 47, 255)"/>
 <rect x="145.56" y="745.4" width="20.58" height="26.399999999999977" fill="rgb(79, 79, 255)"/>
 <rect x="165.84" y="745.4" width="20.58" height="26.399999999999977" fill="rgb(111, 111, 255)"/>
 <rect x="186.12" y="745.4" width="20.58" height="26.399999999999977" fill="rgb(143, 143, 255)"/>
 <rect x="206.40" y="745.4" width="20.58" height="26.399999999999977" fill="rgb(175, 175, 255)"/>
 <rect x="226.68" y="745.4" width="20.58" height="26.399999999999977" fill="rgb(207, 207, 255)"/>
 <rect x="246.96" y="745.4" width="20.58" height="26.399999999999977" fill="rgb(240, 240, 255)"/>
 <rect x="267.24" y="745.4" width="20.58" height="26.399999999999977" fill="rgb(255, 233, 233)"/>
 <rect x="287.52" y="745.4" width="20.58" height="26.399999999999977" fill="rgb(255, 207, 207)"/>
 <rect x="307.80" y="745.4" width="20.58" height="26.399999999999977" fill="rgb(255, 175, 175)"/>
 <rect x="328.08" y="745.4" width="20.58" height="26.399999999999977" fill="rgb(255, 143, 143)"/>
 <rect x="348.36" y="745.4" width="20.58" height="26.399999999999977" fill="rgb(255, 111, 111)"/>
 <rect x="368.64" y="745.4" width="20.58" height="26.399999999999977" fill="rgb(255, 79, 79)"/>
 <rect x="388.92" y="745.4" width="20.58" height="26.399999999999977" fill="rgb(255, 47, 47)"/>
 <rect x="409.20" y="745.4" width="20.58" height="26.399999999999977" fill="rgb(255, 15, 15)"/>
 <rect x="429.48" y="745.4" width="20.58" height="26.399999999999977" fill="rgb(255, 14, 0)"/>
 <rect x="449.76" y="745.4" width="20.58" height="26.399999999999977" fill="rgb(255, 51, 0)"/>
 <rect x="470.04" y="745.4" width="20.58" height="26.399999999999977" fill="rgb(255, 104, 0)"/>
 <rect x="490.32" y="745.4" width="20.58" height="26.399999999999977" fill="rgb(255, 153, 0)"/>
 <rect x="510.60" y="745.4" width="20.58" height="26.399999999999977" fill="rgb(255, 200, 0)"/>
 <rect x="530.88" y="745.4" width="20.58" height="26.399999999999977" fill="rgb(255, 238, 0)"/>
 <rect x="551.16" y="745.4" width="20.58" height="26.399999999999977" fill="rgb(218, 255, 0)"/>
 <rect x="571.44" y="745.4" width="20.58" height="26.399999999999977" fill="rgb(170, 255, 0)"/>
 <rect x="591.72" y="745.4" width="20.58" height="26.399999999999977" fill="rgb(95, 255, 0)"/>
 <rect x="612.00" y="745.4" width="20.58" height="26.399999999999977" fill="rgb(0, 255, 0)"/>
 <rect x="632.28" y="745.4" width="20.58" height="26.399999999999977" fill="rgb(0, 255, 76)"/>
 <rect x="652.56" y="745.4" width="20.58" height="26.399999999999977" fill="rgb(0, 255, 176)"/>
 <rect x="672.84" y="745.4" width="20.58" height="26.399999999999977" fill="rgb(0, 238, 255)"/>
 <rect x="693.12" y="745.4" width="20.58" height="26.399999999999977" fill="rgb(0, 136, 255)"/>
 <rect x="713.40" y="745.4" width="20.58" height="26.399999999999977" fill="rgb(0, 40, 255)"/>
 <rect x="733.68" y="745.4" width="20.58" height="26.399999999999977" fill="rgb(42, 0, 255)"/>
 <rect x="753.96" y="745.4" width="20.58" height="26.399999999999977" fill="rgb(140, 0, 255)"/>
<polygon points="106.0,745.4 105.5,745.4 72.3,758.5999999999999 105.5,771.8 106.0,771.8" fill="rgb(0,0,255)"/>
<polygon points="773.94,745.4 774.74,745.4 807.6,758.5999999999999 774.74,771.8 773.94,771.8" fill="rgb(185,0,255)"/>
<polygon points="105.5,745.4 774.74,745.4 807.6,758.5999999999999 774.74,771.8 105.5,771.8 72.3,758.5999999999999" fill="none" stroke="#000" stroke-width="1.1" stroke-linejoin="miter"/>
<line x1="105.50" y1="771.8" x2="105.50" y2="777.5999999999999" stroke="#000" stroke-width="1.1"/>
<text x="105.5" y="794.2" font-size="14.6" text-anchor="middle" >−2</text>
<line x1="186.62" y1="771.8" x2="186.62" y2="777.5999999999999" stroke="#000" stroke-width="1.1"/>
<text x="186.62" y="794.2" font-size="14.6" text-anchor="middle" >−1</text>
<line x1="267.74" y1="771.8" x2="267.74" y2="777.5999999999999" stroke="#000" stroke-width="1.1"/>
<text x="267.74" y="794.2" font-size="14.6" text-anchor="middle" >0</text>
<line x1="348.86" y1="771.8" x2="348.86" y2="777.5999999999999" stroke="#000" stroke-width="1.1"/>
<text x="348.86" y="794.2" font-size="14.6" text-anchor="middle" >1</text>
<line x1="429.98" y1="771.8" x2="429.98" y2="777.5999999999999" stroke="#000" stroke-width="1.1"/>
<text x="429.98" y="794.2" font-size="14.6" text-anchor="middle" >2</text>
<line x1="511.10" y1="771.8" x2="511.10" y2="777.5999999999999" stroke="#000" stroke-width="1.1"/>
<text x="511.1" y="794.2" font-size="14.6" text-anchor="middle" >4</text>
<line x1="592.22" y1="771.8" x2="592.22" y2="777.5999999999999" stroke="#000" stroke-width="1.1"/>
<text x="592.22" y="794.2" font-size="14.6" text-anchor="middle" >6</text>
<line x1="673.34" y1="771.8" x2="673.34" y2="777.5999999999999" stroke="#000" stroke-width="1.1"/>
<text x="673.34" y="794.2" font-size="14.6" text-anchor="middle" >10</text>
<line x1="754.46" y1="771.8" x2="754.46" y2="777.5999999999999" stroke="#000" stroke-width="1.1"/>
<text x="754.46" y="794.2" font-size="14.6" text-anchor="middle" >14</text>
<text x="326.8" y="822.5" font-size="14.6" text-anchor="start" textLength="226.5" lengthAdjust="spacingAndGlyphs" >850 hPa potenital vorticity (PVU)</text>
</g>
</svg></body></html>
